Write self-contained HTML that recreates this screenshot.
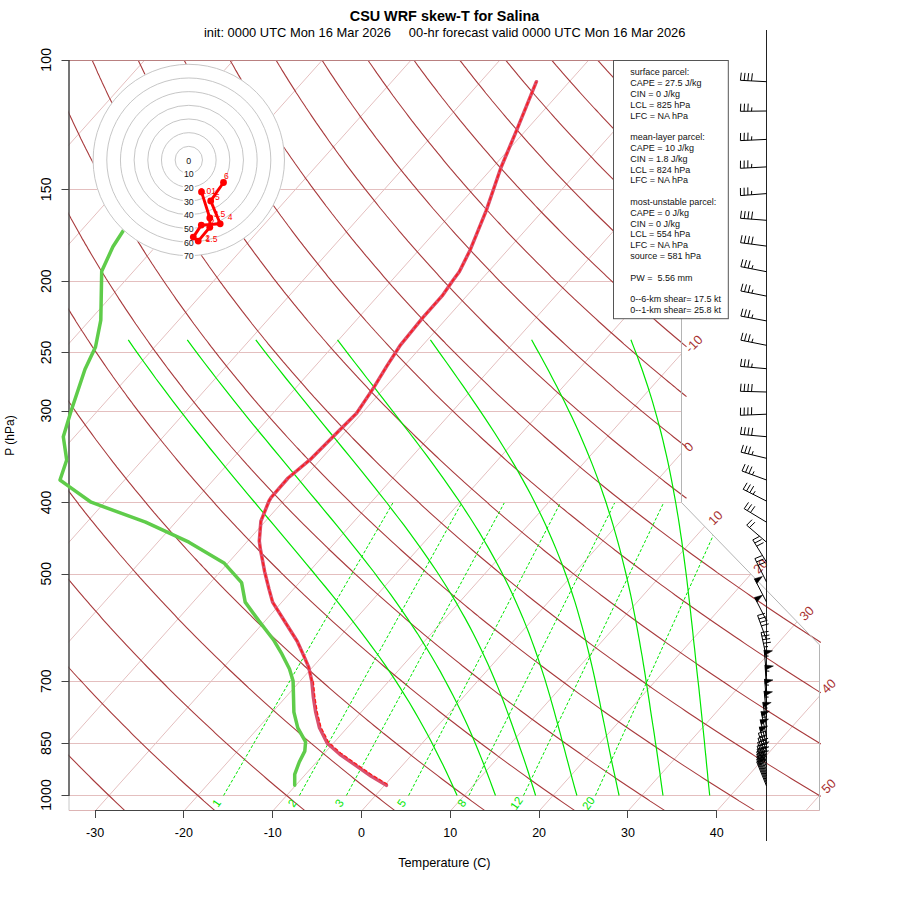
<!DOCTYPE html><html><head><meta charset="utf-8"><style>html,body{margin:0;padding:0;background:#fff;width:900px;height:900px;overflow:hidden;position:relative}</style></head><body>
<svg width="900" height="900" viewBox="0 0 900 900" style="position:absolute;left:0;top:0">
<defs>
<clipPath id="cb"><path d="M68.5 60.5 L681.5 60.5 L681.5 502.5 L819.5 644.9 L819.5 810.5 L68.5 810.5 Z"/></clipPath>
<clipPath id="cd"><path d="M68.4 60.3 L825.3 60.3 L825.3 811.1 L68.4 811.1 Z"/></clipPath>
</defs>
<rect width="900" height="900" fill="#fff"/>
<path d="M68.4 795.5H819.5M68.4 743.5H819.5M68.4 681.5H819.5M68.4 574.5H750.8M68.4 502.5H681.5M68.4 411.5H681.5M68.4 352.5H681.5M68.4 281.5H681.5M68.4 189.5H681.5" stroke="#E4BFBF" stroke-width="1" fill="none"/>
<path d="M-615.3 811.1L55.7 60.3M-526.5 811.1L144.5 60.3M-437.7 811.1L233.3 60.3M-348.9 811.1L322.1 60.3M-260.1 811.1L410.9 60.3M-171.3 811.1L499.7 60.3M-82.5 811.1L588.5 60.3M6.3 811.1L677.3 60.3M95.1 811.1L766.1 60.3M183.9 811.1L854.9 60.3M272.7 811.1L943.7 60.3M361.5 811.1L1032.5 60.3M450.3 811.1L1121.3 60.3M539.1 811.1L1210.1 60.3M627.9 811.1L1298.9 60.3M716.7 811.1L1387.7 60.3M805.4 811.1L1476.5 60.3" stroke="#E4BFBF" stroke-width="1" fill="none" clip-path="url(#cb)"/>
<path d="M-275.5 60.3 L-275.2 62.8 L-274.9 65.3 L-274.6 67.8 L-274.3 70.4 L-274 72.9 L-273.7 75.4 L-273.4 77.9 L-273.1 80.4 L-272.8 82.9 L-272.5 85.4 L-272.1 87.9 L-271.8 90.4 L-271.5 93 L-271.1 95.5 L-270.8 98 L-270.4 100.5 L-270 103 L-269.7 105.5 L-269.3 108 L-268.9 110.5 L-268.5 113 L-268.1 115.6 L-267.7 118.1 L-267.3 120.6 L-266.9 123.1 L-266.5 125.6 L-266.1 128.1 L-265.6 130.6 L-265.2 133.1 L-264.8 135.6 L-264.3 138.2 L-263.9 140.7 L-263.4 143.2 L-262.9 145.7 L-262.5 148.2 L-262 150.7 L-261.5 153.2 L-261 155.7 L-260.5 158.2 L-260 160.8 L-259.5 163.3 L-259 165.8 L-258.5 168.3 L-257.9 170.8 L-257.4 173.3 L-256.9 175.8 L-256.3 178.3 L-255.8 180.8 L-255.2 183.4 L-254.6 185.9 L-254.1 188.4 L-253.5 190.9 L-252.9 193.4 L-252.3 195.9 L-251.7 198.4 L-251.1 200.9 L-250.5 203.4 L-249.9 206 L-249.3 208.5 L-248.6 211 L-248 213.5 L-247.4 216 L-246.7 218.5 L-246.1 221 L-245.4 223.5 L-244.7 226 L-244.1 228.5 L-243.4 231.1 L-242.7 233.6 L-242 236.1 L-241.3 238.6 L-240.6 241.1 L-239.9 243.6 L-239.1 246.1 L-238.4 248.6 L-237.7 251.1 L-236.9 253.7 L-236.2 256.2 L-235.4 258.7 L-234.7 261.2 L-233.9 263.7 L-233.1 266.2 L-232.4 268.7 L-231.6 271.2 L-230.8 273.7 L-230 276.3 L-229.2 278.8 L-228.3 281.3 L-227.5 283.8 L-226.7 286.3 L-225.8 288.8 L-225 291.3 L-224.2 293.8 L-223.3 296.3 L-222.4 298.9 L-221.6 301.4 L-220.7 303.9 L-219.8 306.4 L-218.9 308.9 L-218 311.4 L-217.1 313.9 L-216.2 316.4 L-215.3 318.9 L-214.3 321.5 L-213.4 324 L-212.5 326.5 L-211.5 329 L-210.5 331.5 L-209.6 334 L-208.6 336.5 L-207.6 339 L-206.6 341.5 L-205.7 344.1 L-204.7 346.6 L-203.6 349.1 L-202.6 351.6 L-201.6 354.1 L-200.6 356.6 L-199.5 359.1 L-198.5 361.6 L-197.4 364.1 L-196.4 366.7 L-195.3 369.2 L-194.2 371.7 L-193.2 374.2 L-192.1 376.7 L-191 379.2 L-189.9 381.7 L-188.8 384.2 L-187.6 386.7 L-186.5 389.3 L-185.4 391.8 L-184.2 394.3 L-183.1 396.8 L-181.9 399.3 L-180.8 401.8 L-179.6 404.3 L-178.4 406.8 L-177.2 409.3 L-176 411.9 L-174.8 414.4 L-173.6 416.9 L-172.4 419.4 L-171.2 421.9 L-169.9 424.4 L-168.7 426.9 L-167.4 429.4 L-166.2 431.9 L-164.9 434.4 L-163.6 437 L-162.4 439.5 L-161.1 442 L-159.8 444.5 L-158.5 447 L-157.2 449.5 L-155.8 452 L-154.5 454.5 L-153.2 457 L-151.8 459.6 L-150.5 462.1 L-149.1 464.6 L-147.7 467.1 L-146.4 469.6 L-145 472.1 L-143.6 474.6 L-142.2 477.1 L-140.8 479.6 L-139.3 482.2 L-137.9 484.7 L-136.5 487.2 L-135 489.7 L-133.6 492.2 L-132.1 494.7 L-130.7 497.2 L-129.2 499.7 L-127.7 502.2 L-126.2 504.8 L-124.7 507.3 L-123.2 509.8 L-121.7 512.3 L-120.1 514.8 L-118.6 517.3 L-117.1 519.8 L-115.5 522.3 L-113.9 524.8 L-112.4 527.4 L-110.8 529.9 L-109.2 532.4 L-107.6 534.9 L-106 537.4 L-104.4 539.9 L-102.8 542.4 L-101.1 544.9 L-99.5 547.4 L-97.8 550 L-96.2 552.5 L-94.5 555 L-92.8 557.5 L-91.2 560 L-89.5 562.5 L-87.8 565 L-86.1 567.5 L-84.3 570 L-82.6 572.6 L-80.9 575.1 L-79.1 577.6 L-77.4 580.1 L-75.6 582.6 L-73.8 585.1 L-72 587.6 L-70.3 590.1 L-68.5 592.6 L-66.6 595.2 L-64.8 597.7 L-63 600.2 L-61.2 602.7 L-59.3 605.2 L-57.5 607.7 L-55.6 610.2 L-53.7 612.7 L-51.8 615.2 L-49.9 617.8 L-48 620.3 L-46.1 622.8 L-44.2 625.3 L-42.3 627.8 L-40.3 630.3 L-38.4 632.8 L-36.4 635.3 L-34.5 637.8 L-32.5 640.3 L-30.5 642.9 L-28.5 645.4 L-26.5 647.9 L-24.5 650.4 L-22.5 652.9 L-20.4 655.4 L-18.4 657.9 L-16.3 660.4 L-14.3 662.9 L-12.2 665.5 L-10.1 668 L-8 670.5 L-5.9 673 L-3.8 675.5 L-1.7 678 L0.4 680.5 L2.6 683 L4.7 685.5 L6.9 688.1 L9.1 690.6 L11.3 693.1 L13.4 695.6 L15.6 698.1 L17.9 700.6 L20.1 703.1 L22.3 705.6 L24.6 708.1 L26.8 710.7 L29.1 713.2 L31.3 715.7 L33.6 718.2 L35.9 720.7 L38.2 723.2 L40.5 725.7 L42.8 728.2 L45.2 730.7 L47.5 733.3 L49.9 735.8 L52.2 738.3 L54.6 740.8 L57 743.3 L59.4 745.8 L61.8 748.3 L64.2 750.8 L66.6 753.3 L69.1 755.9 L71.5 758.4 L74 760.9 L76.5 763.4 L78.9 765.9 L81.4 768.4 L83.9 770.9 L86.4 773.4 L89 775.9 L91.5 778.5 L94 781 L96.6 783.5 L99.2 786 L101.7 788.5 L104.3 791 L106.9 793.5 L109.5 796 L112.1 798.5 L114.8 801.1 L117.4 803.6 L120.1 806.1 L122.7 808.6 L125.4 811.1M-229.5 60.3 L-229.1 62.8 L-228.7 65.3 L-228.3 67.8 L-228 70.4 L-227.6 72.9 L-227.1 75.4 L-226.7 77.9 L-226.3 80.4 L-225.9 82.9 L-225.5 85.4 L-225 87.9 L-224.6 90.4 L-224.1 93 L-223.7 95.5 L-223.2 98 L-222.8 100.5 L-222.3 103 L-221.8 105.5 L-221.3 108 L-220.8 110.5 L-220.3 113 L-219.8 115.6 L-219.3 118.1 L-218.8 120.6 L-218.3 123.1 L-217.8 125.6 L-217.2 128.1 L-216.7 130.6 L-216.1 133.1 L-215.6 135.6 L-215 138.2 L-214.5 140.7 L-213.9 143.2 L-213.3 145.7 L-212.7 148.2 L-212.2 150.7 L-211.6 153.2 L-211 155.7 L-210.3 158.2 L-209.7 160.8 L-209.1 163.3 L-208.5 165.8 L-207.8 168.3 L-207.2 170.8 L-206.5 173.3 L-205.9 175.8 L-205.2 178.3 L-204.6 180.8 L-203.9 183.4 L-203.2 185.9 L-202.5 188.4 L-201.8 190.9 L-201.1 193.4 L-200.4 195.9 L-199.7 198.4 L-199 200.9 L-198.3 203.4 L-197.5 206 L-196.8 208.5 L-196 211 L-195.3 213.5 L-194.5 216 L-193.8 218.5 L-193 221 L-192.2 223.5 L-191.4 226 L-190.6 228.5 L-189.8 231.1 L-189 233.6 L-188.2 236.1 L-187.4 238.6 L-186.5 241.1 L-185.7 243.6 L-184.9 246.1 L-184 248.6 L-183.2 251.1 L-182.3 253.7 L-181.4 256.2 L-180.5 258.7 L-179.7 261.2 L-178.8 263.7 L-177.9 266.2 L-177 268.7 L-176 271.2 L-175.1 273.7 L-174.2 276.3 L-173.3 278.8 L-172.3 281.3 L-171.4 283.8 L-170.4 286.3 L-169.4 288.8 L-168.5 291.3 L-167.5 293.8 L-166.5 296.3 L-165.5 298.9 L-164.5 301.4 L-163.5 303.9 L-162.5 306.4 L-161.5 308.9 L-160.4 311.4 L-159.4 313.9 L-158.4 316.4 L-157.3 318.9 L-156.3 321.5 L-155.2 324 L-154.1 326.5 L-153 329 L-151.9 331.5 L-150.9 334 L-149.8 336.5 L-148.6 339 L-147.5 341.5 L-146.4 344.1 L-145.3 346.6 L-144.1 349.1 L-143 351.6 L-141.8 354.1 L-140.6 356.6 L-139.5 359.1 L-138.3 361.6 L-137.1 364.1 L-135.9 366.7 L-134.7 369.2 L-133.5 371.7 L-132.3 374.2 L-131.1 376.7 L-129.8 379.2 L-128.6 381.7 L-127.3 384.2 L-126.1 386.7 L-124.8 389.3 L-123.5 391.8 L-122.3 394.3 L-121 396.8 L-119.7 399.3 L-118.4 401.8 L-117 404.3 L-115.7 406.8 L-114.4 409.3 L-113.1 411.9 L-111.7 414.4 L-110.4 416.9 L-109 419.4 L-107.6 421.9 L-106.3 424.4 L-104.9 426.9 L-103.5 429.4 L-102.1 431.9 L-100.7 434.4 L-99.2 437 L-97.8 439.5 L-96.4 442 L-94.9 444.5 L-93.5 447 L-92 449.5 L-90.6 452 L-89.1 454.5 L-87.6 457 L-86.1 459.6 L-84.6 462.1 L-83.1 464.6 L-81.6 467.1 L-80 469.6 L-78.5 472.1 L-77 474.6 L-75.4 477.1 L-73.8 479.6 L-72.3 482.2 L-70.7 484.7 L-69.1 487.2 L-67.5 489.7 L-65.9 492.2 L-64.3 494.7 L-62.7 497.2 L-61 499.7 L-59.4 502.2 L-57.8 504.8 L-56.1 507.3 L-54.4 509.8 L-52.8 512.3 L-51.1 514.8 L-49.4 517.3 L-47.7 519.8 L-46 522.3 L-44.3 524.8 L-42.5 527.4 L-40.8 529.9 L-39 532.4 L-37.3 534.9 L-35.5 537.4 L-33.8 539.9 L-32 542.4 L-30.2 544.9 L-28.4 547.4 L-26.6 550 L-24.8 552.5 L-22.9 555 L-21.1 557.5 L-19.2 560 L-17.4 562.5 L-15.5 565 L-13.7 567.5 L-11.8 570 L-9.9 572.6 L-8 575.1 L-6.1 577.6 L-4.2 580.1 L-2.2 582.6 L-0.3 585.1 L1.7 587.6 L3.6 590.1 L5.6 592.6 L7.6 595.2 L9.5 597.7 L11.5 600.2 L13.5 602.7 L15.6 605.2 L17.6 607.7 L19.6 610.2 L21.7 612.7 L23.7 615.2 L25.8 617.8 L27.9 620.3 L29.9 622.8 L32 625.3 L34.1 627.8 L36.2 630.3 L38.4 632.8 L40.5 635.3 L42.6 637.8 L44.8 640.3 L46.9 642.9 L49.1 645.4 L51.3 647.9 L53.5 650.4 L55.7 652.9 L57.9 655.4 L60.1 657.9 L62.3 660.4 L64.6 662.9 L66.8 665.5 L69.1 668 L71.4 670.5 L73.6 673 L75.9 675.5 L78.2 678 L80.6 680.5 L82.9 683 L85.2 685.5 L87.6 688.1 L89.9 690.6 L92.3 693.1 L94.6 695.6 L97 698.1 L99.4 700.6 L101.8 703.1 L104.2 705.6 L106.7 708.1 L109.1 710.7 L111.5 713.2 L114 715.7 L116.5 718.2 L119 720.7 L121.4 723.2 L123.9 725.7 L126.5 728.2 L129 730.7 L131.5 733.3 L134 735.8 L136.6 738.3 L139.2 740.8 L141.7 743.3 L144.3 745.8 L146.9 748.3 L149.5 750.8 L152.1 753.3 L154.8 755.9 L157.4 758.4 L160.1 760.9 L162.7 763.4 L165.4 765.9 L168.1 768.4 L170.8 770.9 L173.5 773.4 L176.2 775.9 L178.9 778.5 L181.7 781 L184.4 783.5 L187.2 786 L190 788.5 L192.8 791 L195.6 793.5 L198.4 796 L201.2 798.5 L204 801.1 L206.9 803.6 L209.7 806.1 L212.6 808.6 L215.5 811.1M-183.5 60.3 L-183 62.8 L-182.6 65.3 L-182.1 67.8 L-181.6 70.4 L-181.1 72.9 L-180.6 75.4 L-180 77.9 L-179.5 80.4 L-179 82.9 L-178.5 85.4 L-177.9 87.9 L-177.4 90.4 L-176.8 93 L-176.3 95.5 L-175.7 98 L-175.1 100.5 L-174.5 103 L-174 105.5 L-173.4 108 L-172.8 110.5 L-172.2 113 L-171.5 115.6 L-170.9 118.1 L-170.3 120.6 L-169.7 123.1 L-169 125.6 L-168.4 128.1 L-167.7 130.6 L-167.1 133.1 L-166.4 135.6 L-165.8 138.2 L-165.1 140.7 L-164.4 143.2 L-163.7 145.7 L-163 148.2 L-162.3 150.7 L-161.6 153.2 L-160.9 155.7 L-160.2 158.2 L-159.4 160.8 L-158.7 163.3 L-158 165.8 L-157.2 168.3 L-156.5 170.8 L-155.7 173.3 L-154.9 175.8 L-154.1 178.3 L-153.4 180.8 L-152.6 183.4 L-151.8 185.9 L-151 188.4 L-150.2 190.9 L-149.3 193.4 L-148.5 195.9 L-147.7 198.4 L-146.9 200.9 L-146 203.4 L-145.2 206 L-144.3 208.5 L-143.4 211 L-142.6 213.5 L-141.7 216 L-140.8 218.5 L-139.9 221 L-139 223.5 L-138.1 226 L-137.2 228.5 L-136.3 231.1 L-135.3 233.6 L-134.4 236.1 L-133.4 238.6 L-132.5 241.1 L-131.5 243.6 L-130.6 246.1 L-129.6 248.6 L-128.6 251.1 L-127.6 253.7 L-126.6 256.2 L-125.6 258.7 L-124.6 261.2 L-123.6 263.7 L-122.6 266.2 L-121.6 268.7 L-120.5 271.2 L-119.5 273.7 L-118.4 276.3 L-117.4 278.8 L-116.3 281.3 L-115.2 283.8 L-114.1 286.3 L-113 288.8 L-111.9 291.3 L-110.8 293.8 L-109.7 296.3 L-108.6 298.9 L-107.5 301.4 L-106.3 303.9 L-105.2 306.4 L-104.1 308.9 L-102.9 311.4 L-101.7 313.9 L-100.6 316.4 L-99.4 318.9 L-98.2 321.5 L-97 324 L-95.8 326.5 L-94.6 329 L-93.4 331.5 L-92.1 334 L-90.9 336.5 L-89.6 339 L-88.4 341.5 L-87.1 344.1 L-85.9 346.6 L-84.6 349.1 L-83.3 351.6 L-82 354.1 L-80.7 356.6 L-79.4 359.1 L-78.1 361.6 L-76.8 364.1 L-75.4 366.7 L-74.1 369.2 L-72.8 371.7 L-71.4 374.2 L-70 376.7 L-68.7 379.2 L-67.3 381.7 L-65.9 384.2 L-64.5 386.7 L-63.1 389.3 L-61.7 391.8 L-60.3 394.3 L-58.8 396.8 L-57.4 399.3 L-56 401.8 L-54.5 404.3 L-53 406.8 L-51.6 409.3 L-50.1 411.9 L-48.6 414.4 L-47.1 416.9 L-45.6 419.4 L-44.1 421.9 L-42.6 424.4 L-41 426.9 L-39.5 429.4 L-38 431.9 L-36.4 434.4 L-34.8 437 L-33.3 439.5 L-31.7 442 L-30.1 444.5 L-28.5 447 L-26.9 449.5 L-25.3 452 L-23.7 454.5 L-22 457 L-20.4 459.6 L-18.7 462.1 L-17.1 464.6 L-15.4 467.1 L-13.7 469.6 L-12 472.1 L-10.3 474.6 L-8.6 477.1 L-6.9 479.6 L-5.2 482.2 L-3.5 484.7 L-1.7 487.2 L0 489.7 L1.8 492.2 L3.5 494.7 L5.3 497.2 L7.1 499.7 L8.9 502.2 L10.7 504.8 L12.5 507.3 L14.3 509.8 L16.1 512.3 L18 514.8 L19.8 517.3 L21.7 519.8 L23.5 522.3 L25.4 524.8 L27.3 527.4 L29.2 529.9 L31.1 532.4 L33 534.9 L34.9 537.4 L36.9 539.9 L38.8 542.4 L40.8 544.9 L42.7 547.4 L44.7 550 L46.7 552.5 L48.7 555 L50.7 557.5 L52.7 560 L54.7 562.5 L56.7 565 L58.7 567.5 L60.8 570 L62.8 572.6 L64.9 575.1 L67 577.6 L69.1 580.1 L71.2 582.6 L73.3 585.1 L75.4 587.6 L77.5 590.1 L79.6 592.6 L81.8 595.2 L83.9 597.7 L86.1 600.2 L88.3 602.7 L90.4 605.2 L92.6 607.7 L94.8 610.2 L97.1 612.7 L99.3 615.2 L101.5 617.8 L103.7 620.3 L106 622.8 L108.3 625.3 L110.5 627.8 L112.8 630.3 L115.1 632.8 L117.4 635.3 L119.7 637.8 L122.1 640.3 L124.4 642.9 L126.7 645.4 L129.1 647.9 L131.5 650.4 L133.8 652.9 L136.2 655.4 L138.6 657.9 L141 660.4 L143.4 662.9 L145.9 665.5 L148.3 668 L150.8 670.5 L153.2 673 L155.7 675.5 L158.2 678 L160.7 680.5 L163.2 683 L165.7 685.5 L168.2 688.1 L170.7 690.6 L173.3 693.1 L175.8 695.6 L178.4 698.1 L181 700.6 L183.6 703.1 L186.2 705.6 L188.8 708.1 L191.4 710.7 L194 713.2 L196.7 715.7 L199.3 718.2 L202 720.7 L204.7 723.2 L207.4 725.7 L210.1 728.2 L212.8 730.7 L215.5 733.3 L218.2 735.8 L221 738.3 L223.7 740.8 L226.5 743.3 L229.3 745.8 L232 748.3 L234.8 750.8 L237.7 753.3 L240.5 755.9 L243.3 758.4 L246.2 760.9 L249 763.4 L251.9 765.9 L254.8 768.4 L257.7 770.9 L260.6 773.4 L263.5 775.9 L266.4 778.5 L269.3 781 L272.3 783.5 L275.2 786 L278.2 788.5 L281.2 791 L284.2 793.5 L287.2 796 L290.2 798.5 L293.3 801.1 L296.3 803.6 L299.4 806.1 L302.4 808.6 L305.5 811.1M-137.6 60.3 L-137 62.8 L-136.4 65.3 L-135.8 67.8 L-135.2 70.4 L-134.6 72.9 L-134 75.4 L-133.4 77.9 L-132.7 80.4 L-132.1 82.9 L-131.4 85.4 L-130.8 87.9 L-130.1 90.4 L-129.5 93 L-128.8 95.5 L-128.1 98 L-127.5 100.5 L-126.8 103 L-126.1 105.5 L-125.4 108 L-124.7 110.5 L-124 113 L-123.3 115.6 L-122.5 118.1 L-121.8 120.6 L-121.1 123.1 L-120.3 125.6 L-119.6 128.1 L-118.8 130.6 L-118 133.1 L-117.3 135.6 L-116.5 138.2 L-115.7 140.7 L-114.9 143.2 L-114.1 145.7 L-113.3 148.2 L-112.5 150.7 L-111.7 153.2 L-110.8 155.7 L-110 158.2 L-109.1 160.8 L-108.3 163.3 L-107.4 165.8 L-106.6 168.3 L-105.7 170.8 L-104.8 173.3 L-104 175.8 L-103.1 178.3 L-102.2 180.8 L-101.3 183.4 L-100.3 185.9 L-99.4 188.4 L-98.5 190.9 L-97.6 193.4 L-96.6 195.9 L-95.7 198.4 L-94.7 200.9 L-93.8 203.4 L-92.8 206 L-91.8 208.5 L-90.8 211 L-89.8 213.5 L-88.8 216 L-87.8 218.5 L-86.8 221 L-85.8 223.5 L-84.8 226 L-83.7 228.5 L-82.7 231.1 L-81.6 233.6 L-80.6 236.1 L-79.5 238.6 L-78.5 241.1 L-77.4 243.6 L-76.3 246.1 L-75.2 248.6 L-74.1 251.1 L-73 253.7 L-71.9 256.2 L-70.7 258.7 L-69.6 261.2 L-68.5 263.7 L-67.3 266.2 L-66.2 268.7 L-65 271.2 L-63.8 273.7 L-62.7 276.3 L-61.5 278.8 L-60.3 281.3 L-59.1 283.8 L-57.9 286.3 L-56.6 288.8 L-55.4 291.3 L-54.2 293.8 L-52.9 296.3 L-51.7 298.9 L-50.4 301.4 L-49.2 303.9 L-47.9 306.4 L-46.6 308.9 L-45.3 311.4 L-44 313.9 L-42.7 316.4 L-41.4 318.9 L-40.1 321.5 L-38.8 324 L-37.4 326.5 L-36.1 329 L-34.8 331.5 L-33.4 334 L-32 336.5 L-30.6 339 L-29.3 341.5 L-27.9 344.1 L-26.5 346.6 L-25.1 349.1 L-23.6 351.6 L-22.2 354.1 L-20.8 356.6 L-19.3 359.1 L-17.9 361.6 L-16.4 364.1 L-15 366.7 L-13.5 369.2 L-12 371.7 L-10.5 374.2 L-9 376.7 L-7.5 379.2 L-6 381.7 L-4.5 384.2 L-2.9 386.7 L-1.4 389.3 L0.2 391.8 L1.7 394.3 L3.3 396.8 L4.9 399.3 L6.5 401.8 L8 404.3 L9.7 406.8 L11.3 409.3 L12.9 411.9 L14.5 414.4 L16.2 416.9 L17.8 419.4 L19.5 421.9 L21.1 424.4 L22.8 426.9 L24.5 429.4 L26.2 431.9 L27.9 434.4 L29.6 437 L31.3 439.5 L33 442 L34.7 444.5 L36.5 447 L38.2 449.5 L40 452 L41.8 454.5 L43.6 457 L45.3 459.6 L47.1 462.1 L48.9 464.6 L50.8 467.1 L52.6 469.6 L54.4 472.1 L56.3 474.6 L58.1 477.1 L60 479.6 L61.9 482.2 L63.7 484.7 L65.6 487.2 L67.5 489.7 L69.4 492.2 L71.4 494.7 L73.3 497.2 L75.2 499.7 L77.2 502.2 L79.1 504.8 L81.1 507.3 L83.1 509.8 L85 512.3 L87 514.8 L89 517.3 L91 519.8 L93.1 522.3 L95.1 524.8 L97.1 527.4 L99.2 529.9 L101.3 532.4 L103.3 534.9 L105.4 537.4 L107.5 539.9 L109.6 542.4 L111.7 544.9 L113.8 547.4 L116 550 L118.1 552.5 L120.2 555 L122.4 557.5 L124.6 560 L126.7 562.5 L128.9 565 L131.1 567.5 L133.3 570 L135.6 572.6 L137.8 575.1 L140 577.6 L142.3 580.1 L144.5 582.6 L146.8 585.1 L149.1 587.6 L151.4 590.1 L153.7 592.6 L156 595.2 L158.3 597.7 L160.6 600.2 L163 602.7 L165.3 605.2 L167.7 607.7 L170.1 610.2 L172.4 612.7 L174.8 615.2 L177.2 617.8 L179.6 620.3 L182.1 622.8 L184.5 625.3 L186.9 627.8 L189.4 630.3 L191.9 632.8 L194.3 635.3 L196.8 637.8 L199.3 640.3 L201.8 642.9 L204.4 645.4 L206.9 647.9 L209.4 650.4 L212 652.9 L214.5 655.4 L217.1 657.9 L219.7 660.4 L222.3 662.9 L224.9 665.5 L227.5 668 L230.1 670.5 L232.8 673 L235.4 675.5 L238.1 678 L240.8 680.5 L243.4 683 L246.1 685.5 L248.8 688.1 L251.6 690.6 L254.3 693.1 L257 695.6 L259.8 698.1 L262.5 700.6 L265.3 703.1 L268.1 705.6 L270.9 708.1 L273.7 710.7 L276.5 713.2 L279.3 715.7 L282.2 718.2 L285 720.7 L287.9 723.2 L290.8 725.7 L293.7 728.2 L296.6 730.7 L299.5 733.3 L302.4 735.8 L305.3 738.3 L308.3 740.8 L311.2 743.3 L314.2 745.8 L317.2 748.3 L320.2 750.8 L323.2 753.3 L326.2 755.9 L329.2 758.4 L332.2 760.9 L335.3 763.4 L338.4 765.9 L341.4 768.4 L344.5 770.9 L347.6 773.4 L350.7 775.9 L353.8 778.5 L357 781 L360.1 783.5 L363.3 786 L366.5 788.5 L369.6 791 L372.8 793.5 L376 796 L379.3 798.5 L382.5 801.1 L385.7 803.6 L389 806.1 L392.3 808.6 L395.5 811.1M-91.6 60.3 L-90.9 62.8 L-90.2 65.3 L-89.5 67.8 L-88.8 70.4 L-88.1 72.9 L-87.4 75.4 L-86.7 77.9 L-85.9 80.4 L-85.2 82.9 L-84.4 85.4 L-83.7 87.9 L-82.9 90.4 L-82.2 93 L-81.4 95.5 L-80.6 98 L-79.8 100.5 L-79 103 L-78.2 105.5 L-77.4 108 L-76.6 110.5 L-75.8 113 L-75 115.6 L-74.1 118.1 L-73.3 120.6 L-72.4 123.1 L-71.6 125.6 L-70.7 128.1 L-69.8 130.6 L-69 133.1 L-68.1 135.6 L-67.2 138.2 L-66.3 140.7 L-65.4 143.2 L-64.5 145.7 L-63.6 148.2 L-62.6 150.7 L-61.7 153.2 L-60.8 155.7 L-59.8 158.2 L-58.9 160.8 L-57.9 163.3 L-56.9 165.8 L-56 168.3 L-55 170.8 L-54 173.3 L-53 175.8 L-52 178.3 L-51 180.8 L-49.9 183.4 L-48.9 185.9 L-47.9 188.4 L-46.8 190.9 L-45.8 193.4 L-44.7 195.9 L-43.7 198.4 L-42.6 200.9 L-41.5 203.4 L-40.4 206 L-39.3 208.5 L-38.2 211 L-37.1 213.5 L-36 216 L-34.9 218.5 L-33.7 221 L-32.6 223.5 L-31.5 226 L-30.3 228.5 L-29.1 231.1 L-28 233.6 L-26.8 236.1 L-25.6 238.6 L-24.4 241.1 L-23.2 243.6 L-22 246.1 L-20.8 248.6 L-19.6 251.1 L-18.3 253.7 L-17.1 256.2 L-15.8 258.7 L-14.6 261.2 L-13.3 263.7 L-12 266.2 L-10.8 268.7 L-9.5 271.2 L-8.2 273.7 L-6.9 276.3 L-5.6 278.8 L-4.3 281.3 L-2.9 283.8 L-1.6 286.3 L-0.2 288.8 L1.1 291.3 L2.5 293.8 L3.8 296.3 L5.2 298.9 L6.6 301.4 L8 303.9 L9.4 306.4 L10.8 308.9 L12.2 311.4 L13.6 313.9 L15.1 316.4 L16.5 318.9 L18 321.5 L19.4 324 L20.9 326.5 L22.4 329 L23.8 331.5 L25.3 334 L26.8 336.5 L28.3 339 L29.9 341.5 L31.4 344.1 L32.9 346.6 L34.5 349.1 L36 351.6 L37.6 354.1 L39.1 356.6 L40.7 359.1 L42.3 361.6 L43.9 364.1 L45.5 366.7 L47.1 369.2 L48.7 371.7 L50.4 374.2 L52 376.7 L53.7 379.2 L55.3 381.7 L57 384.2 L58.6 386.7 L60.3 389.3 L62 391.8 L63.7 394.3 L65.4 396.8 L67.1 399.3 L68.9 401.8 L70.6 404.3 L72.3 406.8 L74.1 409.3 L75.9 411.9 L77.6 414.4 L79.4 416.9 L81.2 419.4 L83 421.9 L84.8 424.4 L86.6 426.9 L88.4 429.4 L90.3 431.9 L92.1 434.4 L94 437 L95.8 439.5 L97.7 442 L99.6 444.5 L101.5 447 L103.4 449.5 L105.3 452 L107.2 454.5 L109.1 457 L111.1 459.6 L113 462.1 L115 464.6 L116.9 467.1 L118.9 469.6 L120.9 472.1 L122.9 474.6 L124.9 477.1 L126.9 479.6 L128.9 482.2 L131 484.7 L133 487.2 L135 489.7 L137.1 492.2 L139.2 494.7 L141.3 497.2 L143.3 499.7 L145.4 502.2 L147.6 504.8 L149.7 507.3 L151.8 509.8 L153.9 512.3 L156.1 514.8 L158.2 517.3 L160.4 519.8 L162.6 522.3 L164.8 524.8 L167 527.4 L169.2 529.9 L171.4 532.4 L173.6 534.9 L175.9 537.4 L178.1 539.9 L180.4 542.4 L182.6 544.9 L184.9 547.4 L187.2 550 L189.5 552.5 L191.8 555 L194.1 557.5 L196.5 560 L198.8 562.5 L201.2 565 L203.5 567.5 L205.9 570 L208.3 572.6 L210.7 575.1 L213.1 577.6 L215.5 580.1 L217.9 582.6 L220.3 585.1 L222.8 587.6 L225.2 590.1 L227.7 592.6 L230.2 595.2 L232.7 597.7 L235.2 600.2 L237.7 602.7 L240.2 605.2 L242.7 607.7 L245.3 610.2 L247.8 612.7 L250.4 615.2 L253 617.8 L255.5 620.3 L258.1 622.8 L260.7 625.3 L263.4 627.8 L266 630.3 L268.6 632.8 L271.3 635.3 L273.9 637.8 L276.6 640.3 L279.3 642.9 L282 645.4 L284.7 647.9 L287.4 650.4 L290.1 652.9 L292.9 655.4 L295.6 657.9 L298.4 660.4 L301.2 662.9 L303.9 665.5 L306.7 668 L309.5 670.5 L312.4 673 L315.2 675.5 L318 678 L320.9 680.5 L323.7 683 L326.6 685.5 L329.5 688.1 L332.4 690.6 L335.3 693.1 L338.2 695.6 L341.2 698.1 L344.1 700.6 L347.1 703.1 L350 705.6 L353 708.1 L356 710.7 L359 713.2 L362 715.7 L365 718.2 L368.1 720.7 L371.1 723.2 L374.2 725.7 L377.3 728.2 L380.3 730.7 L383.4 733.3 L386.6 735.8 L389.7 738.3 L392.8 740.8 L396 743.3 L399.1 745.8 L402.3 748.3 L405.5 750.8 L408.7 753.3 L411.9 755.9 L415.1 758.4 L418.3 760.9 L421.6 763.4 L424.8 765.9 L428.1 768.4 L431.4 770.9 L434.7 773.4 L438 775.9 L441.3 778.5 L444.6 781 L448 783.5 L451.3 786 L454.7 788.5 L458.1 791 L461.5 793.5 L464.9 796 L468.3 798.5 L471.7 801.1 L475.2 803.6 L478.6 806.1 L482.1 808.6 L485.6 811.1M-45.6 60.3 L-44.8 62.8 L-44.1 65.3 L-43.2 67.8 L-42.4 70.4 L-41.6 72.9 L-40.8 75.4 L-40 77.9 L-39.1 80.4 L-38.3 82.9 L-37.4 85.4 L-36.6 87.9 L-35.7 90.4 L-34.8 93 L-34 95.5 L-33.1 98 L-32.2 100.5 L-31.3 103 L-30.4 105.5 L-29.5 108 L-28.5 110.5 L-27.6 113 L-26.7 115.6 L-25.7 118.1 L-24.8 120.6 L-23.8 123.1 L-22.8 125.6 L-21.9 128.1 L-20.9 130.6 L-19.9 133.1 L-18.9 135.6 L-17.9 138.2 L-16.9 140.7 L-15.9 143.2 L-14.9 145.7 L-13.8 148.2 L-12.8 150.7 L-11.8 153.2 L-10.7 155.7 L-9.6 158.2 L-8.6 160.8 L-7.5 163.3 L-6.4 165.8 L-5.3 168.3 L-4.2 170.8 L-3.1 173.3 L-2 175.8 L-0.9 178.3 L0.2 180.8 L1.4 183.4 L2.5 185.9 L3.7 188.4 L4.8 190.9 L6 193.4 L7.2 195.9 L8.4 198.4 L9.5 200.9 L10.7 203.4 L11.9 206 L13.2 208.5 L14.4 211 L15.6 213.5 L16.8 216 L18.1 218.5 L19.3 221 L20.6 223.5 L21.9 226 L23.1 228.5 L24.4 231.1 L25.7 233.6 L27 236.1 L28.3 238.6 L29.6 241.1 L31 243.6 L32.3 246.1 L33.6 248.6 L35 251.1 L36.3 253.7 L37.7 256.2 L39.1 258.7 L40.4 261.2 L41.8 263.7 L43.2 266.2 L44.6 268.7 L46 271.2 L47.5 273.7 L48.9 276.3 L50.3 278.8 L51.8 281.3 L53.2 283.8 L54.7 286.3 L56.2 288.8 L57.6 291.3 L59.1 293.8 L60.6 296.3 L62.1 298.9 L63.6 301.4 L65.2 303.9 L66.7 306.4 L68.2 308.9 L69.8 311.4 L71.3 313.9 L72.9 316.4 L74.5 318.9 L76 321.5 L77.6 324 L79.2 326.5 L80.8 329 L82.4 331.5 L84.1 334 L85.7 336.5 L87.3 339 L89 341.5 L90.7 344.1 L92.3 346.6 L94 349.1 L95.7 351.6 L97.4 354.1 L99.1 356.6 L100.8 359.1 L102.5 361.6 L104.2 364.1 L106 366.7 L107.7 369.2 L109.5 371.7 L111.3 374.2 L113 376.7 L114.8 379.2 L116.6 381.7 L118.4 384.2 L120.2 386.7 L122 389.3 L123.9 391.8 L125.7 394.3 L127.5 396.8 L129.4 399.3 L131.3 401.8 L133.1 404.3 L135 406.8 L136.9 409.3 L138.8 411.9 L140.7 414.4 L142.7 416.9 L144.6 419.4 L146.5 421.9 L148.5 424.4 L150.4 426.9 L152.4 429.4 L154.4 431.9 L156.4 434.4 L158.4 437 L160.4 439.5 L162.4 442 L164.4 444.5 L166.5 447 L168.5 449.5 L170.6 452 L172.6 454.5 L174.7 457 L176.8 459.6 L178.9 462.1 L181 464.6 L183.1 467.1 L185.2 469.6 L187.4 472.1 L189.5 474.6 L191.7 477.1 L193.8 479.6 L196 482.2 L198.2 484.7 L200.4 487.2 L202.6 489.7 L204.8 492.2 L207 494.7 L209.2 497.2 L211.5 499.7 L213.7 502.2 L216 504.8 L218.3 507.3 L220.5 509.8 L222.8 512.3 L225.1 514.8 L227.5 517.3 L229.8 519.8 L232.1 522.3 L234.5 524.8 L236.8 527.4 L239.2 529.9 L241.6 532.4 L243.9 534.9 L246.3 537.4 L248.7 539.9 L251.2 542.4 L253.6 544.9 L256 547.4 L258.5 550 L260.9 552.5 L263.4 555 L265.9 557.5 L268.4 560 L270.9 562.5 L273.4 565 L275.9 567.5 L278.5 570 L281 572.6 L283.6 575.1 L286.1 577.6 L288.7 580.1 L291.3 582.6 L293.9 585.1 L296.5 587.6 L299.1 590.1 L301.8 592.6 L304.4 595.2 L307.1 597.7 L309.7 600.2 L312.4 602.7 L315.1 605.2 L317.8 607.7 L320.5 610.2 L323.2 612.7 L325.9 615.2 L328.7 617.8 L331.4 620.3 L334.2 622.8 L337 625.3 L339.8 627.8 L342.6 630.3 L345.4 632.8 L348.2 635.3 L351 637.8 L353.9 640.3 L356.7 642.9 L359.6 645.4 L362.5 647.9 L365.4 650.4 L368.3 652.9 L371.2 655.4 L374.1 657.9 L377.1 660.4 L380 662.9 L383 665.5 L385.9 668 L388.9 670.5 L391.9 673 L394.9 675.5 L397.9 678 L401 680.5 L404 683 L407.1 685.5 L410.1 688.1 L413.2 690.6 L416.3 693.1 L419.4 695.6 L422.5 698.1 L425.7 700.6 L428.8 703.1 L432 705.6 L435.1 708.1 L438.3 710.7 L441.5 713.2 L444.7 715.7 L447.9 718.2 L451.1 720.7 L454.4 723.2 L457.6 725.7 L460.9 728.2 L464.1 730.7 L467.4 733.3 L470.7 735.8 L474 738.3 L477.4 740.8 L480.7 743.3 L484 745.8 L487.4 748.3 L490.8 750.8 L494.2 753.3 L497.6 755.9 L501 758.4 L504.4 760.9 L507.8 763.4 L511.3 765.9 L514.8 768.4 L518.2 770.9 L521.7 773.4 L525.2 775.9 L528.7 778.5 L532.3 781 L535.8 783.5 L539.4 786 L542.9 788.5 L546.5 791 L550.1 793.5 L553.7 796 L557.3 798.5 L561 801.1 L564.6 803.6 L568.3 806.1 L571.9 808.6 L575.6 811.1M0.3 60.3 L1.2 62.8 L2.1 65.3 L3 67.8 L3.9 70.4 L4.9 72.9 L5.8 75.4 L6.7 77.9 L7.7 80.4 L8.6 82.9 L9.6 85.4 L10.5 87.9 L11.5 90.4 L12.5 93 L13.5 95.5 L14.5 98 L15.5 100.5 L16.5 103 L17.5 105.5 L18.5 108 L19.5 110.5 L20.6 113 L21.6 115.6 L22.7 118.1 L23.7 120.6 L24.8 123.1 L25.9 125.6 L27 128.1 L28.1 130.6 L29.2 133.1 L30.3 135.6 L31.4 138.2 L32.5 140.7 L33.6 143.2 L34.7 145.7 L35.9 148.2 L37 150.7 L38.2 153.2 L39.4 155.7 L40.5 158.2 L41.7 160.8 L42.9 163.3 L44.1 165.8 L45.3 168.3 L46.5 170.8 L47.7 173.3 L49 175.8 L50.2 178.3 L51.4 180.8 L52.7 183.4 L54 185.9 L55.2 188.4 L56.5 190.9 L57.8 193.4 L59.1 195.9 L60.4 198.4 L61.7 200.9 L63 203.4 L64.3 206 L65.6 208.5 L67 211 L68.3 213.5 L69.7 216 L71 218.5 L72.4 221 L73.8 223.5 L75.2 226 L76.6 228.5 L78 231.1 L79.4 233.6 L80.8 236.1 L82.2 238.6 L83.7 241.1 L85.1 243.6 L86.6 246.1 L88 248.6 L89.5 251.1 L91 253.7 L92.5 256.2 L94 258.7 L95.5 261.2 L97 263.7 L98.5 266.2 L100 268.7 L101.6 271.2 L103.1 273.7 L104.7 276.3 L106.2 278.8 L107.8 281.3 L109.4 283.8 L111 286.3 L112.6 288.8 L114.2 291.3 L115.8 293.8 L117.4 296.3 L119 298.9 L120.7 301.4 L122.3 303.9 L124 306.4 L125.6 308.9 L127.3 311.4 L129 313.9 L130.7 316.4 L132.4 318.9 L134.1 321.5 L135.8 324 L137.6 326.5 L139.3 329 L141 331.5 L142.8 334 L144.6 336.5 L146.3 339 L148.1 341.5 L149.9 344.1 L151.7 346.6 L153.5 349.1 L155.3 351.6 L157.2 354.1 L159 356.6 L160.9 359.1 L162.7 361.6 L164.6 364.1 L166.5 366.7 L168.3 369.2 L170.2 371.7 L172.1 374.2 L174 376.7 L176 379.2 L177.9 381.7 L179.8 384.2 L181.8 386.7 L183.7 389.3 L185.7 391.8 L187.7 394.3 L189.7 396.8 L191.7 399.3 L193.7 401.8 L195.7 404.3 L197.7 406.8 L199.8 409.3 L201.8 411.9 L203.9 414.4 L205.9 416.9 L208 419.4 L210.1 421.9 L212.2 424.4 L214.3 426.9 L216.4 429.4 L218.5 431.9 L220.6 434.4 L222.8 437 L224.9 439.5 L227.1 442 L229.3 444.5 L231.4 447 L233.6 449.5 L235.8 452 L238.1 454.5 L240.3 457 L242.5 459.6 L244.8 462.1 L247 464.6 L249.3 467.1 L251.5 469.6 L253.8 472.1 L256.1 474.6 L258.4 477.1 L260.7 479.6 L263.1 482.2 L265.4 484.7 L267.7 487.2 L270.1 489.7 L272.4 492.2 L274.8 494.7 L277.2 497.2 L279.6 499.7 L282 502.2 L284.4 504.8 L286.9 507.3 L289.3 509.8 L291.7 512.3 L294.2 514.8 L296.7 517.3 L299.1 519.8 L301.6 522.3 L304.1 524.8 L306.7 527.4 L309.2 529.9 L311.7 532.4 L314.3 534.9 L316.8 537.4 L319.4 539.9 L322 542.4 L324.5 544.9 L327.1 547.4 L329.7 550 L332.4 552.5 L335 555 L337.6 557.5 L340.3 560 L343 562.5 L345.6 565 L348.3 567.5 L351 570 L353.7 572.6 L356.4 575.1 L359.2 577.6 L361.9 580.1 L364.7 582.6 L367.4 585.1 L370.2 587.6 L373 590.1 L375.8 592.6 L378.6 595.2 L381.4 597.7 L384.3 600.2 L387.1 602.7 L390 605.2 L392.8 607.7 L395.7 610.2 L398.6 612.7 L401.5 615.2 L404.4 617.8 L407.3 620.3 L410.3 622.8 L413.2 625.3 L416.2 627.8 L419.2 630.3 L422.1 632.8 L425.1 635.3 L428.1 637.8 L431.2 640.3 L434.2 642.9 L437.2 645.4 L440.3 647.9 L443.4 650.4 L446.4 652.9 L449.5 655.4 L452.6 657.9 L455.7 660.4 L458.9 662.9 L462 665.5 L465.2 668 L468.3 670.5 L471.5 673 L474.7 675.5 L477.9 678 L481.1 680.5 L484.3 683 L487.5 685.5 L490.8 688.1 L494.1 690.6 L497.3 693.1 L500.6 695.6 L503.9 698.1 L507.2 700.6 L510.5 703.1 L513.9 705.6 L517.2 708.1 L520.6 710.7 L524 713.2 L527.4 715.7 L530.7 718.2 L534.2 720.7 L537.6 723.2 L541 725.7 L544.5 728.2 L547.9 730.7 L551.4 733.3 L554.9 735.8 L558.4 738.3 L561.9 740.8 L565.4 743.3 L569 745.8 L572.5 748.3 L576.1 750.8 L579.7 753.3 L583.3 755.9 L586.9 758.4 L590.5 760.9 L594.1 763.4 L597.8 765.9 L601.4 768.4 L605.1 770.9 L608.8 773.4 L612.5 775.9 L616.2 778.5 L619.9 781 L623.7 783.5 L627.4 786 L631.2 788.5 L635 791 L638.7 793.5 L642.6 796 L646.4 798.5 L650.2 801.1 L654.1 803.6 L657.9 806.1 L661.8 808.6 L665.7 811.1M46.3 60.3 L47.3 62.8 L48.3 65.3 L49.3 67.8 L50.3 70.4 L51.3 72.9 L52.4 75.4 L53.4 77.9 L54.5 80.4 L55.5 82.9 L56.6 85.4 L57.7 87.9 L58.7 90.4 L59.8 93 L60.9 95.5 L62 98 L63.1 100.5 L64.2 103 L65.4 105.5 L66.5 108 L67.6 110.5 L68.8 113 L69.9 115.6 L71.1 118.1 L72.3 120.6 L73.4 123.1 L74.6 125.6 L75.8 128.1 L77 130.6 L78.2 133.1 L79.4 135.6 L80.6 138.2 L81.9 140.7 L83.1 143.2 L84.4 145.7 L85.6 148.2 L86.9 150.7 L88.2 153.2 L89.4 155.7 L90.7 158.2 L92 160.8 L93.3 163.3 L94.6 165.8 L95.9 168.3 L97.3 170.8 L98.6 173.3 L99.9 175.8 L101.3 178.3 L102.6 180.8 L104 183.4 L105.4 185.9 L106.8 188.4 L108.2 190.9 L109.6 193.4 L111 195.9 L112.4 198.4 L113.8 200.9 L115.2 203.4 L116.7 206 L118.1 208.5 L119.6 211 L121 213.5 L122.5 216 L124 218.5 L125.5 221 L127 223.5 L128.5 226 L130 228.5 L131.5 231.1 L133.1 233.6 L134.6 236.1 L136.2 238.6 L137.7 241.1 L139.3 243.6 L140.9 246.1 L142.4 248.6 L144 251.1 L145.6 253.7 L147.2 256.2 L148.9 258.7 L150.5 261.2 L152.1 263.7 L153.8 266.2 L155.4 268.7 L157.1 271.2 L158.8 273.7 L160.4 276.3 L162.1 278.8 L163.8 281.3 L165.5 283.8 L167.2 286.3 L169 288.8 L170.7 291.3 L172.4 293.8 L174.2 296.3 L175.9 298.9 L177.7 301.4 L179.5 303.9 L181.3 306.4 L183.1 308.9 L184.9 311.4 L186.7 313.9 L188.5 316.4 L190.3 318.9 L192.2 321.5 L194 324 L195.9 326.5 L197.8 329 L199.6 331.5 L201.5 334 L203.4 336.5 L205.3 339 L207.3 341.5 L209.2 344.1 L211.1 346.6 L213.1 349.1 L215 351.6 L217 354.1 L218.9 356.6 L220.9 359.1 L222.9 361.6 L224.9 364.1 L226.9 366.7 L228.9 369.2 L231 371.7 L233 374.2 L235.1 376.7 L237.1 379.2 L239.2 381.7 L241.3 384.2 L243.4 386.7 L245.5 389.3 L247.6 391.8 L249.7 394.3 L251.8 396.8 L253.9 399.3 L256.1 401.8 L258.2 404.3 L260.4 406.8 L262.6 409.3 L264.8 411.9 L267 414.4 L269.2 416.9 L271.4 419.4 L273.6 421.9 L275.9 424.4 L278.1 426.9 L280.4 429.4 L282.6 431.9 L284.9 434.4 L287.2 437 L289.5 439.5 L291.8 442 L294.1 444.5 L296.4 447 L298.8 449.5 L301.1 452 L303.5 454.5 L305.9 457 L308.2 459.6 L310.6 462.1 L313 464.6 L315.4 467.1 L317.9 469.6 L320.3 472.1 L322.7 474.6 L325.2 477.1 L327.6 479.6 L330.1 482.2 L332.6 484.7 L335.1 487.2 L337.6 489.7 L340.1 492.2 L342.6 494.7 L345.2 497.2 L347.7 499.7 L350.3 502.2 L352.9 504.8 L355.4 507.3 L358 509.8 L360.6 512.3 L363.3 514.8 L365.9 517.3 L368.5 519.8 L371.2 522.3 L373.8 524.8 L376.5 527.4 L379.2 529.9 L381.9 532.4 L384.6 534.9 L387.3 537.4 L390 539.9 L392.7 542.4 L395.5 544.9 L398.2 547.4 L401 550 L403.8 552.5 L406.6 555 L409.4 557.5 L412.2 560 L415 562.5 L417.9 565 L420.7 567.5 L423.6 570 L426.4 572.6 L429.3 575.1 L432.2 577.6 L435.1 580.1 L438.1 582.6 L441 585.1 L443.9 587.6 L446.9 590.1 L449.8 592.6 L452.8 595.2 L455.8 597.7 L458.8 600.2 L461.8 602.7 L464.8 605.2 L467.9 607.7 L470.9 610.2 L474 612.7 L477.1 615.2 L480.1 617.8 L483.2 620.3 L486.3 622.8 L489.5 625.3 L492.6 627.8 L495.7 630.3 L498.9 632.8 L502.1 635.3 L505.2 637.8 L508.4 640.3 L511.6 642.9 L514.9 645.4 L518.1 647.9 L521.3 650.4 L524.6 652.9 L527.8 655.4 L531.1 657.9 L534.4 660.4 L537.7 662.9 L541 665.5 L544.4 668 L547.7 670.5 L551.1 673 L554.4 675.5 L557.8 678 L561.2 680.5 L564.6 683 L568 685.5 L571.4 688.1 L574.9 690.6 L578.3 693.1 L581.8 695.6 L585.3 698.1 L588.8 700.6 L592.3 703.1 L595.8 705.6 L599.3 708.1 L602.9 710.7 L606.4 713.2 L610 715.7 L613.6 718.2 L617.2 720.7 L620.8 723.2 L624.4 725.7 L628.1 728.2 L631.7 730.7 L635.4 733.3 L639.1 735.8 L642.8 738.3 L646.5 740.8 L650.2 743.3 L653.9 745.8 L657.7 748.3 L661.4 750.8 L665.2 753.3 L669 755.9 L672.8 758.4 L676.6 760.9 L680.4 763.4 L684.2 765.9 L688.1 768.4 L692 770.9 L695.8 773.4 L699.7 775.9 L703.6 778.5 L707.6 781 L711.5 783.5 L715.5 786 L719.4 788.5 L723.4 791 L727.4 793.5 L731.4 796 L735.4 798.5 L739.4 801.1 L743.5 803.6 L747.6 806.1 L751.6 808.6 L755.7 811.1M92.2 60.3 L93.3 62.8 L94.5 65.3 L95.6 67.8 L96.7 70.4 L97.8 72.9 L99 75.4 L100.1 77.9 L101.3 80.4 L102.4 82.9 L103.6 85.4 L104.8 87.9 L105.9 90.4 L107.1 93 L108.3 95.5 L109.5 98 L110.8 100.5 L112 103 L113.2 105.5 L114.5 108 L115.7 110.5 L117 113 L118.2 115.6 L119.5 118.1 L120.8 120.6 L122 123.1 L123.3 125.6 L124.6 128.1 L126 130.6 L127.3 133.1 L128.6 135.6 L129.9 138.2 L131.3 140.7 L132.6 143.2 L134 145.7 L135.3 148.2 L136.7 150.7 L138.1 153.2 L139.5 155.7 L140.9 158.2 L142.3 160.8 L143.7 163.3 L145.1 165.8 L146.6 168.3 L148 170.8 L149.5 173.3 L150.9 175.8 L152.4 178.3 L153.8 180.8 L155.3 183.4 L156.8 185.9 L158.3 188.4 L159.8 190.9 L161.3 193.4 L162.9 195.9 L164.4 198.4 L165.9 200.9 L167.5 203.4 L169 206 L170.6 208.5 L172.2 211 L173.8 213.5 L175.4 216 L177 218.5 L178.6 221 L180.2 223.5 L181.8 226 L183.4 228.5 L185.1 231.1 L186.7 233.6 L188.4 236.1 L190.1 238.6 L191.8 241.1 L193.4 243.6 L195.1 246.1 L196.8 248.6 L198.6 251.1 L200.3 253.7 L202 256.2 L203.8 258.7 L205.5 261.2 L207.3 263.7 L209 266.2 L210.8 268.7 L212.6 271.2 L214.4 273.7 L216.2 276.3 L218 278.8 L219.8 281.3 L221.7 283.8 L223.5 286.3 L225.4 288.8 L227.2 291.3 L229.1 293.8 L231 296.3 L232.9 298.9 L234.8 301.4 L236.7 303.9 L238.6 306.4 L240.5 308.9 L242.4 311.4 L244.4 313.9 L246.3 316.4 L248.3 318.9 L250.3 321.5 L252.2 324 L254.2 326.5 L256.2 329 L258.2 331.5 L260.3 334 L262.3 336.5 L264.3 339 L266.4 341.5 L268.4 344.1 L270.5 346.6 L272.6 349.1 L274.7 351.6 L276.8 354.1 L278.9 356.6 L281 359.1 L283.1 361.6 L285.3 364.1 L287.4 366.7 L289.6 369.2 L291.7 371.7 L293.9 374.2 L296.1 376.7 L298.3 379.2 L300.5 381.7 L302.7 384.2 L304.9 386.7 L307.2 389.3 L309.4 391.8 L311.7 394.3 L313.9 396.8 L316.2 399.3 L318.5 401.8 L320.8 404.3 L323.1 406.8 L325.4 409.3 L327.7 411.9 L330.1 414.4 L332.4 416.9 L334.8 419.4 L337.2 421.9 L339.5 424.4 L341.9 426.9 L344.3 429.4 L346.7 431.9 L349.2 434.4 L351.6 437 L354 439.5 L356.5 442 L359 444.5 L361.4 447 L363.9 449.5 L366.4 452 L368.9 454.5 L371.4 457 L374 459.6 L376.5 462.1 L379 464.6 L381.6 467.1 L384.2 469.6 L386.8 472.1 L389.3 474.6 L391.9 477.1 L394.6 479.6 L397.2 482.2 L399.8 484.7 L402.5 487.2 L405.1 489.7 L407.8 492.2 L410.5 494.7 L413.2 497.2 L415.9 499.7 L418.6 502.2 L421.3 504.8 L424 507.3 L426.8 509.8 L429.5 512.3 L432.3 514.8 L435.1 517.3 L437.9 519.8 L440.7 522.3 L443.5 524.8 L446.3 527.4 L449.2 529.9 L452 532.4 L454.9 534.9 L457.7 537.4 L460.6 539.9 L463.5 542.4 L466.4 544.9 L469.3 547.4 L472.3 550 L475.2 552.5 L478.2 555 L481.1 557.5 L484.1 560 L487.1 562.5 L490.1 565 L493.1 567.5 L496.1 570 L499.2 572.6 L502.2 575.1 L505.3 577.6 L508.3 580.1 L511.4 582.6 L514.5 585.1 L517.6 587.6 L520.8 590.1 L523.9 592.6 L527 595.2 L530.2 597.7 L533.3 600.2 L536.5 602.7 L539.7 605.2 L542.9 607.7 L546.1 610.2 L549.4 612.7 L552.6 615.2 L555.9 617.8 L559.1 620.3 L562.4 622.8 L565.7 625.3 L569 627.8 L572.3 630.3 L575.6 632.8 L579 635.3 L582.3 637.8 L585.7 640.3 L589.1 642.9 L592.5 645.4 L595.9 647.9 L599.3 650.4 L602.7 652.9 L606.2 655.4 L609.6 657.9 L613.1 660.4 L616.6 662.9 L620.1 665.5 L623.6 668 L627.1 670.5 L630.6 673 L634.2 675.5 L637.7 678 L641.3 680.5 L644.9 683 L648.5 685.5 L652.1 688.1 L655.7 690.6 L659.4 693.1 L663 695.6 L666.7 698.1 L670.3 700.6 L674 703.1 L677.7 705.6 L681.5 708.1 L685.2 710.7 L688.9 713.2 L692.7 715.7 L696.5 718.2 L700.2 720.7 L704 723.2 L707.9 725.7 L711.7 728.2 L715.5 730.7 L719.4 733.3 L723.2 735.8 L727.1 738.3 L731 740.8 L734.9 743.3 L738.8 745.8 L742.8 748.3 L746.7 750.8 L750.7 753.3 L754.7 755.9 L758.7 758.4 L762.7 760.9 L766.7 763.4 L770.7 765.9 L774.8 768.4 L778.8 770.9 L782.9 773.4 L787 775.9 L791.1 778.5 L795.2 781 L799.4 783.5 L803.5 786 L807.7 788.5 L811.8 791 L816 793.5 L820.2 796 L820.8 796.4M138.2 60.3 L139.4 62.8 L140.6 65.3 L141.8 67.8 L143.1 70.4 L144.3 72.9 L145.5 75.4 L146.8 77.9 L148.1 80.4 L149.3 82.9 L150.6 85.4 L151.9 87.9 L153.2 90.4 L154.5 93 L155.8 95.5 L157.1 98 L158.4 100.5 L159.7 103 L161.1 105.5 L162.4 108 L163.8 110.5 L165.1 113 L166.5 115.6 L167.9 118.1 L169.3 120.6 L170.7 123.1 L172.1 125.6 L173.5 128.1 L174.9 130.6 L176.3 133.1 L177.8 135.6 L179.2 138.2 L180.7 140.7 L182.1 143.2 L183.6 145.7 L185.1 148.2 L186.6 150.7 L188.1 153.2 L189.6 155.7 L191.1 158.2 L192.6 160.8 L194.1 163.3 L195.7 165.8 L197.2 168.3 L198.7 170.8 L200.3 173.3 L201.9 175.8 L203.5 178.3 L205.1 180.8 L206.6 183.4 L208.3 185.9 L209.9 188.4 L211.5 190.9 L213.1 193.4 L214.8 195.9 L216.4 198.4 L218.1 200.9 L219.7 203.4 L221.4 206 L223.1 208.5 L224.8 211 L226.5 213.5 L228.2 216 L229.9 218.5 L231.6 221 L233.4 223.5 L235.1 226 L236.9 228.5 L238.6 231.1 L240.4 233.6 L242.2 236.1 L244 238.6 L245.8 241.1 L247.6 243.6 L249.4 246.1 L251.3 248.6 L253.1 251.1 L254.9 253.7 L256.8 256.2 L258.7 258.7 L260.5 261.2 L262.4 263.7 L264.3 266.2 L266.2 268.7 L268.1 271.2 L270 273.7 L272 276.3 L273.9 278.8 L275.9 281.3 L277.8 283.8 L279.8 286.3 L281.8 288.8 L283.7 291.3 L285.7 293.8 L287.8 296.3 L289.8 298.9 L291.8 301.4 L293.8 303.9 L295.9 306.4 L297.9 308.9 L300 311.4 L302.1 313.9 L304.1 316.4 L306.2 318.9 L308.3 321.5 L310.5 324 L312.6 326.5 L314.7 329 L316.8 331.5 L319 334 L321.2 336.5 L323.3 339 L325.5 341.5 L327.7 344.1 L329.9 346.6 L332.1 349.1 L334.3 351.6 L336.6 354.1 L338.8 356.6 L341.1 359.1 L343.3 361.6 L345.6 364.1 L347.9 366.7 L350.2 369.2 L352.5 371.7 L354.8 374.2 L357.1 376.7 L359.4 379.2 L361.8 381.7 L364.1 384.2 L366.5 386.7 L368.9 389.3 L371.3 391.8 L373.7 394.3 L376.1 396.8 L378.5 399.3 L380.9 401.8 L383.3 404.3 L385.8 406.8 L388.3 409.3 L390.7 411.9 L393.2 414.4 L395.7 416.9 L398.2 419.4 L400.7 421.9 L403.2 424.4 L405.8 426.9 L408.3 429.4 L410.9 431.9 L413.4 434.4 L416 437 L418.6 439.5 L421.2 442 L423.8 444.5 L426.4 447 L429 449.5 L431.7 452 L434.3 454.5 L437 457 L439.7 459.6 L442.4 462.1 L445.1 464.6 L447.8 467.1 L450.5 469.6 L453.2 472.1 L456 474.6 L458.7 477.1 L461.5 479.6 L464.2 482.2 L467 484.7 L469.8 487.2 L472.6 489.7 L475.5 492.2 L478.3 494.7 L481.1 497.2 L484 499.7 L486.9 502.2 L489.7 504.8 L492.6 507.3 L495.5 509.8 L498.4 512.3 L501.4 514.8 L504.3 517.3 L507.3 519.8 L510.2 522.3 L513.2 524.8 L516.2 527.4 L519.2 529.9 L522.2 532.4 L525.2 534.9 L528.2 537.4 L531.3 539.9 L534.3 542.4 L537.4 544.9 L540.5 547.4 L543.5 550 L546.6 552.5 L549.8 555 L552.9 557.5 L556 560 L559.2 562.5 L562.3 565 L565.5 567.5 L568.7 570 L571.9 572.6 L575.1 575.1 L578.3 577.6 L581.6 580.1 L584.8 582.6 L588.1 585.1 L591.3 587.6 L594.6 590.1 L597.9 592.6 L601.2 595.2 L604.6 597.7 L607.9 600.2 L611.2 602.7 L614.6 605.2 L618 607.7 L621.4 610.2 L624.8 612.7 L628.2 615.2 L631.6 617.8 L635 620.3 L638.5 622.8 L641.9 625.3 L645.4 627.8 L648.9 630.3 L652.4 632.8 L655.9 635.3 L659.4 637.8 L663 640.3 L666.5 642.9 L670.1 645.4 L673.7 647.9 L677.3 650.4 L680.9 652.9 L684.5 655.4 L688.1 657.9 L691.8 660.4 L695.4 662.9 L699.1 665.5 L702.8 668 L706.5 670.5 L710.2 673 L713.9 675.5 L717.7 678 L721.4 680.5 L725.2 683 L728.9 685.5 L732.7 688.1 L736.5 690.6 L740.4 693.1 L744.2 695.6 L748 698.1 L751.9 700.6 L755.8 703.1 L759.7 705.6 L763.6 708.1 L767.5 710.7 L771.4 713.2 L775.4 715.7 L779.3 718.2 L783.3 720.7 L787.3 723.2 L791.3 725.7 L795.3 728.2 L799.3 730.7 L803.4 733.3 L807.4 735.8 L811.5 738.3 L815.6 740.8 L819.7 743.3 L820.8 744M184.2 60.3 L185.5 62.8 L186.8 65.3 L188.1 67.8 L189.4 70.4 L190.8 72.9 L192.1 75.4 L193.5 77.9 L194.9 80.4 L196.2 82.9 L197.6 85.4 L199 87.9 L200.4 90.4 L201.8 93 L203.2 95.5 L204.6 98 L206.1 100.5 L207.5 103 L208.9 105.5 L210.4 108 L211.9 110.5 L213.3 113 L214.8 115.6 L216.3 118.1 L217.8 120.6 L219.3 123.1 L220.8 125.6 L222.3 128.1 L223.9 130.6 L225.4 133.1 L226.9 135.6 L228.5 138.2 L230.1 140.7 L231.6 143.2 L233.2 145.7 L234.8 148.2 L236.4 150.7 L238 153.2 L239.6 155.7 L241.2 158.2 L242.9 160.8 L244.5 163.3 L246.2 165.8 L247.8 168.3 L249.5 170.8 L251.2 173.3 L252.9 175.8 L254.5 178.3 L256.3 180.8 L258 183.4 L259.7 185.9 L261.4 188.4 L263.2 190.9 L264.9 193.4 L266.7 195.9 L268.4 198.4 L270.2 200.9 L272 203.4 L273.8 206 L275.6 208.5 L277.4 211 L279.2 213.5 L281 216 L282.9 218.5 L284.7 221 L286.6 223.5 L288.4 226 L290.3 228.5 L292.2 231.1 L294.1 233.6 L296 236.1 L297.9 238.6 L299.8 241.1 L301.8 243.6 L303.7 246.1 L305.7 248.6 L307.6 251.1 L309.6 253.7 L311.6 256.2 L313.6 258.7 L315.6 261.2 L317.6 263.7 L319.6 266.2 L321.6 268.7 L323.6 271.2 L325.7 273.7 L327.7 276.3 L329.8 278.8 L331.9 281.3 L334 283.8 L336.1 286.3 L338.2 288.8 L340.3 291.3 L342.4 293.8 L344.5 296.3 L346.7 298.9 L348.8 301.4 L351 303.9 L353.2 306.4 L355.3 308.9 L357.5 311.4 L359.7 313.9 L362 316.4 L364.2 318.9 L366.4 321.5 L368.7 324 L370.9 326.5 L373.2 329 L375.4 331.5 L377.7 334 L380 336.5 L382.3 339 L384.6 341.5 L387 344.1 L389.3 346.6 L391.6 349.1 L394 351.6 L396.4 354.1 L398.7 356.6 L401.1 359.1 L403.5 361.6 L405.9 364.1 L408.4 366.7 L410.8 369.2 L413.2 371.7 L415.7 374.2 L418.1 376.7 L420.6 379.2 L423.1 381.7 L425.6 384.2 L428.1 386.7 L430.6 389.3 L433.1 391.8 L435.6 394.3 L438.2 396.8 L440.7 399.3 L443.3 401.8 L445.9 404.3 L448.5 406.8 L451.1 409.3 L453.7 411.9 L456.3 414.4 L458.9 416.9 L461.6 419.4 L464.2 421.9 L466.9 424.4 L469.6 426.9 L472.3 429.4 L475 431.9 L477.7 434.4 L480.4 437 L483.1 439.5 L485.9 442 L488.6 444.5 L491.4 447 L494.2 449.5 L497 452 L499.8 454.5 L502.6 457 L505.4 459.6 L508.2 462.1 L511.1 464.6 L513.9 467.1 L516.8 469.6 L519.7 472.1 L522.6 474.6 L525.5 477.1 L528.4 479.6 L531.3 482.2 L534.3 484.7 L537.2 487.2 L540.2 489.7 L543.1 492.2 L546.1 494.7 L549.1 497.2 L552.1 499.7 L555.1 502.2 L558.2 504.8 L561.2 507.3 L564.3 509.8 L567.3 512.3 L570.4 514.8 L573.5 517.3 L576.6 519.8 L579.7 522.3 L582.9 524.8 L586 527.4 L589.2 529.9 L592.3 532.4 L595.5 534.9 L598.7 537.4 L601.9 539.9 L605.1 542.4 L608.3 544.9 L611.6 547.4 L614.8 550 L618.1 552.5 L621.3 555 L624.6 557.5 L627.9 560 L631.2 562.5 L634.6 565 L637.9 567.5 L641.3 570 L644.6 572.6 L648 575.1 L651.4 577.6 L654.8 580.1 L658.2 582.6 L661.6 585.1 L665.1 587.6 L668.5 590.1 L672 592.6 L675.4 595.2 L678.9 597.7 L682.4 600.2 L686 602.7 L689.5 605.2 L693 607.7 L696.6 610.2 L700.1 612.7 L703.7 615.2 L707.3 617.8 L710.9 620.3 L714.5 622.8 L718.2 625.3 L721.8 627.8 L725.5 630.3 L729.2 632.8 L732.8 635.3 L736.5 637.8 L740.3 640.3 L744 642.9 L747.7 645.4 L751.5 647.9 L755.2 650.4 L759 652.9 L762.8 655.4 L766.6 657.9 L770.4 660.4 L774.3 662.9 L778.1 665.5 L782 668 L785.9 670.5 L789.8 673 L793.7 675.5 L797.6 678 L801.5 680.5 L805.5 683 L809.4 685.5 L813.4 688.1 L817.4 690.6 L820.8 692.7M230.1 60.3 L231.5 62.8 L233 65.3 L234.4 67.8 L235.8 70.4 L237.3 72.9 L238.7 75.4 L240.2 77.9 L241.7 80.4 L243.1 82.9 L244.6 85.4 L246.1 87.9 L247.6 90.4 L249.1 93 L250.6 95.5 L252.2 98 L253.7 100.5 L255.2 103 L256.8 105.5 L258.4 108 L259.9 110.5 L261.5 113 L263.1 115.6 L264.7 118.1 L266.3 120.6 L267.9 123.1 L269.5 125.6 L271.2 128.1 L272.8 130.6 L274.5 133.1 L276.1 135.6 L277.8 138.2 L279.4 140.7 L281.1 143.2 L282.8 145.7 L284.5 148.2 L286.2 150.7 L288 153.2 L289.7 155.7 L291.4 158.2 L293.2 160.8 L294.9 163.3 L296.7 165.8 L298.5 168.3 L300.2 170.8 L302 173.3 L303.8 175.8 L305.6 178.3 L307.5 180.8 L309.3 183.4 L311.1 185.9 L313 188.4 L314.8 190.9 L316.7 193.4 L318.6 195.9 L320.4 198.4 L322.3 200.9 L324.2 203.4 L326.1 206 L328.1 208.5 L330 211 L331.9 213.5 L333.9 216 L335.8 218.5 L337.8 221 L339.8 223.5 L341.8 226 L343.8 228.5 L345.8 231.1 L347.8 233.6 L349.8 236.1 L351.8 238.6 L353.9 241.1 L355.9 243.6 L358 246.1 L360.1 248.6 L362.2 251.1 L364.2 253.7 L366.3 256.2 L368.5 258.7 L370.6 261.2 L372.7 263.7 L374.8 266.2 L377 268.7 L379.2 271.2 L381.3 273.7 L383.5 276.3 L385.7 278.8 L387.9 281.3 L390.1 283.8 L392.3 286.3 L394.6 288.8 L396.8 291.3 L399.1 293.8 L401.3 296.3 L403.6 298.9 L405.9 301.4 L408.2 303.9 L410.5 306.4 L412.8 308.9 L415.1 311.4 L417.4 313.9 L419.8 316.4 L422.1 318.9 L424.5 321.5 L426.9 324 L429.2 326.5 L431.6 329 L434 331.5 L436.5 334 L438.9 336.5 L441.3 339 L443.8 341.5 L446.2 344.1 L448.7 346.6 L451.2 349.1 L453.7 351.6 L456.2 354.1 L458.7 356.6 L461.2 359.1 L463.7 361.6 L466.3 364.1 L468.8 366.7 L471.4 369.2 L474 371.7 L476.6 374.2 L479.1 376.7 L481.8 379.2 L484.4 381.7 L487 384.2 L489.6 386.7 L492.3 389.3 L495 391.8 L497.6 394.3 L500.3 396.8 L503 399.3 L505.7 401.8 L508.4 404.3 L511.2 406.8 L513.9 409.3 L516.7 411.9 L519.4 414.4 L522.2 416.9 L525 419.4 L527.8 421.9 L530.6 424.4 L533.4 426.9 L536.2 429.4 L539.1 431.9 L541.9 434.4 L544.8 437 L547.7 439.5 L550.6 442 L553.5 444.5 L556.4 447 L559.3 449.5 L562.2 452 L565.2 454.5 L568.1 457 L571.1 459.6 L574.1 462.1 L577.1 464.6 L580.1 467.1 L583.1 469.6 L586.1 472.1 L589.2 474.6 L592.2 477.1 L595.3 479.6 L598.4 482.2 L601.5 484.7 L604.6 487.2 L607.7 489.7 L610.8 492.2 L613.9 494.7 L617.1 497.2 L620.3 499.7 L623.4 502.2 L626.6 504.8 L629.8 507.3 L633 509.8 L636.2 512.3 L639.5 514.8 L642.7 517.3 L646 519.8 L649.3 522.3 L652.5 524.8 L655.8 527.4 L659.1 529.9 L662.5 532.4 L665.8 534.9 L669.1 537.4 L672.5 539.9 L675.9 542.4 L679.3 544.9 L682.7 547.4 L686.1 550 L689.5 552.5 L692.9 555 L696.4 557.5 L699.8 560 L703.3 562.5 L706.8 565 L710.3 567.5 L713.8 570 L717.3 572.6 L720.9 575.1 L724.4 577.6 L728 580.1 L731.6 582.6 L735.2 585.1 L738.8 587.6 L742.4 590.1 L746 592.6 L749.7 595.2 L753.3 597.7 L757 600.2 L760.7 602.7 L764.4 605.2 L768.1 607.7 L771.8 610.2 L775.5 612.7 L779.3 615.2 L783 617.8 L786.8 620.3 L790.6 622.8 L794.4 625.3 L798.2 627.8 L802.1 630.3 L805.9 632.8 L809.8 635.3 L813.6 637.8 L817.5 640.3 L820.8 642.5M276.1 60.3 L277.6 62.8 L279.1 65.3 L280.7 67.8 L282.2 70.4 L283.8 72.9 L285.3 75.4 L286.9 77.9 L288.4 80.4 L290 82.9 L291.6 85.4 L293.2 87.9 L294.8 90.4 L296.4 93 L298.1 95.5 L299.7 98 L301.3 100.5 L303 103 L304.7 105.5 L306.3 108 L308 110.5 L309.7 113 L311.4 115.6 L313.1 118.1 L314.8 120.6 L316.5 123.1 L318.3 125.6 L320 128.1 L321.8 130.6 L323.5 133.1 L325.3 135.6 L327.1 138.2 L328.8 140.7 L330.6 143.2 L332.4 145.7 L334.3 148.2 L336.1 150.7 L337.9 153.2 L339.7 155.7 L341.6 158.2 L343.5 160.8 L345.3 163.3 L347.2 165.8 L349.1 168.3 L351 170.8 L352.9 173.3 L354.8 175.8 L356.7 178.3 L358.7 180.8 L360.6 183.4 L362.6 185.9 L364.5 188.4 L366.5 190.9 L368.5 193.4 L370.5 195.9 L372.5 198.4 L374.5 200.9 L376.5 203.4 L378.5 206 L380.5 208.5 L382.6 211 L384.7 213.5 L386.7 216 L388.8 218.5 L390.9 221 L393 223.5 L395.1 226 L397.2 228.5 L399.3 231.1 L401.5 233.6 L403.6 236.1 L405.8 238.6 L407.9 241.1 L410.1 243.6 L412.3 246.1 L414.5 248.6 L416.7 251.1 L418.9 253.7 L421.1 256.2 L423.4 258.7 L425.6 261.2 L427.9 263.7 L430.1 266.2 L432.4 268.7 L434.7 271.2 L437 273.7 L439.3 276.3 L441.6 278.8 L443.9 281.3 L446.3 283.8 L448.6 286.3 L451 288.8 L453.3 291.3 L455.7 293.8 L458.1 296.3 L460.5 298.9 L462.9 301.4 L465.3 303.9 L467.8 306.4 L470.2 308.9 L472.7 311.4 L475.1 313.9 L477.6 316.4 L480.1 318.9 L482.6 321.5 L485.1 324 L487.6 326.5 L490.1 329 L492.6 331.5 L495.2 334 L497.8 336.5 L500.3 339 L502.9 341.5 L505.5 344.1 L508.1 346.6 L510.7 349.1 L513.3 351.6 L516 354.1 L518.6 356.6 L521.3 359.1 L523.9 361.6 L526.6 364.1 L529.3 366.7 L532 369.2 L534.7 371.7 L537.4 374.2 L540.2 376.7 L542.9 379.2 L545.7 381.7 L548.4 384.2 L551.2 386.7 L554 389.3 L556.8 391.8 L559.6 394.3 L562.4 396.8 L565.3 399.3 L568.1 401.8 L571 404.3 L573.9 406.8 L576.7 409.3 L579.6 411.9 L582.5 414.4 L585.5 416.9 L588.4 419.4 L591.3 421.9 L594.3 424.4 L597.2 426.9 L600.2 429.4 L603.2 431.9 L606.2 434.4 L609.2 437 L612.2 439.5 L615.3 442 L618.3 444.5 L621.4 447 L624.4 449.5 L627.5 452 L630.6 454.5 L633.7 457 L636.8 459.6 L640 462.1 L643.1 464.6 L646.3 467.1 L649.4 469.6 L652.6 472.1 L655.8 474.6 L659 477.1 L662.2 479.6 L665.4 482.2 L668.7 484.7 L671.9 487.2 L675.2 489.7 L678.5 492.2 L681.8 494.7 L685.1 497.2 L686.5 498.3M322.1 60.3 L323.7 62.8 L325.3 65.3 L326.9 67.8 L328.6 70.4 L330.2 72.9 L331.9 75.4 L333.6 77.9 L335.2 80.4 L336.9 82.9 L338.6 85.4 L340.3 87.9 L342 90.4 L343.8 93 L345.5 95.5 L347.2 98 L349 100.5 L350.8 103 L352.5 105.5 L354.3 108 L356.1 110.5 L357.9 113 L359.7 115.6 L361.5 118.1 L363.3 120.6 L365.2 123.1 L367 125.6 L368.8 128.1 L370.7 130.6 L372.6 133.1 L374.4 135.6 L376.3 138.2 L378.2 140.7 L380.1 143.2 L382.1 145.7 L384 148.2 L385.9 150.7 L387.9 153.2 L389.8 155.7 L391.8 158.2 L393.7 160.8 L395.7 163.3 L397.7 165.8 L399.7 168.3 L401.7 170.8 L403.7 173.3 L405.8 175.8 L407.8 178.3 L409.9 180.8 L411.9 183.4 L414 185.9 L416.1 188.4 L418.1 190.9 L420.2 193.4 L422.4 195.9 L424.5 198.4 L426.6 200.9 L428.7 203.4 L430.9 206 L433 208.5 L435.2 211 L437.4 213.5 L439.6 216 L441.8 218.5 L444 221 L446.2 223.5 L448.4 226 L450.6 228.5 L452.9 231.1 L455.1 233.6 L457.4 236.1 L459.7 238.6 L462 241.1 L464.3 243.6 L466.6 246.1 L468.9 248.6 L471.2 251.1 L473.5 253.7 L475.9 256.2 L478.3 258.7 L480.6 261.2 L483 263.7 L485.4 266.2 L487.8 268.7 L490.2 271.2 L492.6 273.7 L495.1 276.3 L497.5 278.8 L499.9 281.3 L502.4 283.8 L504.9 286.3 L507.4 288.8 L509.9 291.3 L512.4 293.8 L514.9 296.3 L517.4 298.9 L519.9 301.4 L522.5 303.9 L525.1 306.4 L527.6 308.9 L530.2 311.4 L532.8 313.9 L535.4 316.4 L538 318.9 L540.6 321.5 L543.3 324 L545.9 326.5 L548.6 329 L551.2 331.5 L553.9 334 L556.6 336.5 L559.3 339 L562 341.5 L564.8 344.1 L567.5 346.6 L570.2 349.1 L573 351.6 L575.8 354.1 L578.5 356.6 L581.3 359.1 L584.1 361.6 L586.9 364.1 L589.8 366.7 L592.6 369.2 L595.5 371.7 L598.3 374.2 L601.2 376.7 L604.1 379.2 L607 381.7 L609.9 384.2 L612.8 386.7 L615.7 389.3 L618.7 391.8 L621.6 394.3 L624.6 396.8 L627.6 399.3 L630.5 401.8 L633.5 404.3 L636.6 406.8 L639.6 409.3 L642.6 411.9 L645.7 414.4 L648.7 416.9 L651.8 419.4 L654.9 421.9 L658 424.4 L661.1 426.9 L664.2 429.4 L667.3 431.9 L670.5 434.4 L673.6 437 L676.8 439.5 L680 442 L683.2 444.5 L686.4 447 L686.5 447.1M368 60.3 L369.7 62.8 L371.5 65.3 L373.2 67.8 L375 70.4 L376.7 72.9 L378.5 75.4 L380.3 77.9 L382 80.4 L383.8 82.9 L385.6 85.4 L387.4 87.9 L389.3 90.4 L391.1 93 L392.9 95.5 L394.8 98 L396.6 100.5 L398.5 103 L400.4 105.5 L402.3 108 L404.2 110.5 L406.1 113 L408 115.6 L409.9 118.1 L411.8 120.6 L413.8 123.1 L415.7 125.6 L417.7 128.1 L419.7 130.6 L421.6 133.1 L423.6 135.6 L425.6 138.2 L427.6 140.7 L429.6 143.2 L431.7 145.7 L433.7 148.2 L435.8 150.7 L437.8 153.2 L439.9 155.7 L441.9 158.2 L444 160.8 L446.1 163.3 L448.2 165.8 L450.3 168.3 L452.5 170.8 L454.6 173.3 L456.7 175.8 L458.9 178.3 L461.1 180.8 L463.2 183.4 L465.4 185.9 L467.6 188.4 L469.8 190.9 L472 193.4 L474.2 195.9 L476.5 198.4 L478.7 200.9 L481 203.4 L483.2 206 L485.5 208.5 L487.8 211 L490.1 213.5 L492.4 216 L494.7 218.5 L497 221 L499.4 223.5 L501.7 226 L504.1 228.5 L506.4 231.1 L508.8 233.6 L511.2 236.1 L513.6 238.6 L516 241.1 L518.4 243.6 L520.9 246.1 L523.3 248.6 L525.7 251.1 L528.2 253.7 L530.7 256.2 L533.2 258.7 L535.6 261.2 L538.1 263.7 L540.7 266.2 L543.2 268.7 L545.7 271.2 L548.3 273.7 L550.8 276.3 L553.4 278.8 L556 281.3 L558.6 283.8 L561.2 286.3 L563.8 288.8 L566.4 291.3 L569 293.8 L571.7 296.3 L574.3 298.9 L577 301.4 L579.7 303.9 L582.4 306.4 L585.1 308.9 L587.8 311.4 L590.5 313.9 L593.2 316.4 L596 318.9 L598.7 321.5 L601.5 324 L604.3 326.5 L607 329 L609.8 331.5 L612.7 334 L615.5 336.5 L618.3 339 L621.2 341.5 L624 344.1 L626.9 346.6 L629.8 349.1 L632.7 351.6 L635.6 354.1 L638.5 356.6 L641.4 359.1 L644.3 361.6 L647.3 364.1 L650.2 366.7 L653.2 369.2 L656.2 371.7 L659.2 374.2 L662.2 376.7 L665.2 379.2 L668.3 381.7 L671.3 384.2 L674.4 386.7 L677.4 389.3 L680.5 391.8 L683.6 394.3 L686.5 396.6M414 60.3 L415.8 62.8 L417.6 65.3 L419.5 67.8 L421.3 70.4 L423.2 72.9 L425.1 75.4 L426.9 77.9 L428.8 80.4 L430.7 82.9 L432.6 85.4 L434.6 87.9 L436.5 90.4 L438.4 93 L440.4 95.5 L442.3 98 L444.3 100.5 L446.3 103 L448.2 105.5 L450.2 108 L452.2 110.5 L454.3 113 L456.3 115.6 L458.3 118.1 L460.3 120.6 L462.4 123.1 L464.5 125.6 L466.5 128.1 L468.6 130.6 L470.7 133.1 L472.8 135.6 L474.9 138.2 L477 140.7 L479.1 143.2 L481.3 145.7 L483.4 148.2 L485.6 150.7 L487.8 153.2 L489.9 155.7 L492.1 158.2 L494.3 160.8 L496.5 163.3 L498.7 165.8 L501 168.3 L503.2 170.8 L505.5 173.3 L507.7 175.8 L510 178.3 L512.3 180.8 L514.6 183.4 L516.8 185.9 L519.2 188.4 L521.5 190.9 L523.8 193.4 L526.1 195.9 L528.5 198.4 L530.9 200.9 L533.2 203.4 L535.6 206 L538 208.5 L540.4 211 L542.8 213.5 L545.2 216 L547.7 218.5 L550.1 221 L552.6 223.5 L555 226 L557.5 228.5 L560 231.1 L562.5 233.6 L565 236.1 L567.5 238.6 L570 241.1 L572.6 243.6 L575.1 246.1 L577.7 248.6 L580.3 251.1 L582.9 253.7 L585.4 256.2 L588.1 258.7 L590.7 261.2 L593.3 263.7 L595.9 266.2 L598.6 268.7 L601.2 271.2 L603.9 273.7 L606.6 276.3 L609.3 278.8 L612 281.3 L614.7 283.8 L617.4 286.3 L620.2 288.8 L622.9 291.3 L625.7 293.8 L628.5 296.3 L631.2 298.9 L634 301.4 L636.8 303.9 L639.6 306.4 L642.5 308.9 L645.3 311.4 L648.2 313.9 L651 316.4 L653.9 318.9 L656.8 321.5 L659.7 324 L662.6 326.5 L665.5 329 L668.4 331.5 L671.4 334 L674.3 336.5 L677.3 339 L680.3 341.5 L683.3 344.1 L686.3 346.6 L686.5 346.7M459.9 60.3 L461.9 62.8 L463.8 65.3 L465.8 67.8 L467.7 70.4 L469.7 72.9 L471.7 75.4 L473.6 77.9 L475.6 80.4 L477.6 82.9 L479.7 85.4 L481.7 87.9 L483.7 90.4 L485.7 93 L487.8 95.5 L489.9 98 L491.9 100.5 L494 103 L496.1 105.5 L498.2 108 L500.3 110.5 L502.4 113 L504.6 115.6 L506.7 118.1 L508.9 120.6 L511 123.1 L513.2 125.6 L515.4 128.1 L517.6 130.6 L519.8 133.1 L522 135.6 L524.2 138.2 L526.4 140.7 L528.6 143.2 L530.9 145.7 L533.2 148.2 L535.4 150.7 L537.7 153.2 L540 155.7 L542.3 158.2 L544.6 160.8 L546.9 163.3 L549.3 165.8 L551.6 168.3 L554 170.8 L556.3 173.3 L558.7 175.8 L561.1 178.3 L563.5 180.8 L565.9 183.4 L568.3 185.9 L570.7 188.4 L573.1 190.9 L575.6 193.4 L578 195.9 L580.5 198.4 L583 200.9 L585.5 203.4 L588 206 L590.5 208.5 L593 211 L595.5 213.5 L598.1 216 L600.6 218.5 L603.2 221 L605.8 223.5 L608.4 226 L610.9 228.5 L613.6 231.1 L616.2 233.6 L618.8 236.1 L621.4 238.6 L624.1 241.1 L626.8 243.6 L629.4 246.1 L632.1 248.6 L634.8 251.1 L637.5 253.7 L640.2 256.2 L643 258.7 L645.7 261.2 L648.4 263.7 L651.2 266.2 L654 268.7 L656.8 271.2 L659.6 273.7 L662.4 276.3 L665.2 278.8 L668 281.3 L670.9 283.8 L673.7 286.3 L676.6 288.8 L679.4 291.3 L682.3 293.8 L685.2 296.3 L686.5 297.4M505.9 60.3 L507.9 62.8 L510 65.3 L512 67.8 L514.1 70.4 L516.2 72.9 L518.2 75.4 L520.3 77.9 L522.4 80.4 L524.5 82.9 L526.7 85.4 L528.8 87.9 L530.9 90.4 L533.1 93 L535.2 95.5 L537.4 98 L539.6 100.5 L541.8 103 L544 105.5 L546.2 108 L548.4 110.5 L550.6 113 L552.9 115.6 L555.1 118.1 L557.4 120.6 L559.6 123.1 L561.9 125.6 L564.2 128.1 L566.5 130.6 L568.8 133.1 L571.1 135.6 L573.5 138.2 L575.8 140.7 L578.2 143.2 L580.5 145.7 L582.9 148.2 L585.3 150.7 L587.7 153.2 L590.1 155.7 L592.5 158.2 L594.9 160.8 L597.3 163.3 L599.8 165.8 L602.2 168.3 L604.7 170.8 L607.2 173.3 L609.7 175.8 L612.2 178.3 L614.7 180.8 L617.2 183.4 L619.7 185.9 L622.3 188.4 L624.8 190.9 L627.4 193.4 L629.9 195.9 L632.5 198.4 L635.1 200.9 L637.7 203.4 L640.3 206 L643 208.5 L645.6 211 L648.3 213.5 L650.9 216 L653.6 218.5 L656.3 221 L659 223.5 L661.7 226 L664.4 228.5 L667.1 231.1 L669.9 233.6 L672.6 236.1 L675.4 238.6 L678.1 241.1 L680.9 243.6 L683.7 246.1 L686.5 248.6M551.9 60.3 L554 62.8 L556.1 65.3 L558.3 67.8 L560.5 70.4 L562.6 72.9 L564.8 75.4 L567 77.9 L569.2 80.4 L571.4 82.9 L573.7 85.4 L575.9 87.9 L578.1 90.4 L580.4 93 L582.7 95.5 L584.9 98 L587.2 100.5 L589.5 103 L591.8 105.5 L594.1 108 L596.5 110.5 L598.8 113 L601.2 115.6 L603.5 118.1 L605.9 120.6 L608.3 123.1 L610.6 125.6 L613 128.1 L615.5 130.6 L617.9 133.1 L620.3 135.6 L622.7 138.2 L625.2 140.7 L627.7 143.2 L630.1 145.7 L632.6 148.2 L635.1 150.7 L637.6 153.2 L640.1 155.7 L642.7 158.2 L645.2 160.8 L647.7 163.3 L650.3 165.8 L652.9 168.3 L655.4 170.8 L658 173.3 L660.6 175.8 L663.2 178.3 L665.9 180.8 L668.5 183.4 L671.1 185.9 L673.8 188.4 L676.5 190.9 L679.2 193.4 L681.8 195.9 L684.5 198.4 L686.5 200.2M597.8 60.3 L600.1 62.8 L602.3 65.3 L604.6 67.8 L606.8 70.4 L609.1 72.9 L611.4 75.4 L613.7 77.9 L616 80.4 L618.3 82.9 L620.7 85.4 L623 87.9 L625.4 90.4 L627.7 93 L630.1 95.5 L632.5 98 L634.9 100.5 L637.3 103 L639.7 105.5 L642.1 108 L644.5 110.5 L647 113 L649.4 115.6 L651.9 118.1 L654.4 120.6 L656.9 123.1 L659.4 125.6 L661.9 128.1 L664.4 130.6 L666.9 133.1 L669.5 135.6 L672 138.2 L674.6 140.7 L677.2 143.2 L679.7 145.7 L682.3 148.2 L684.9 150.7 L686.5 152.2M643.8 60.3 L646.1 62.8 L648.5 65.3 L650.9 67.8 L653.2 70.4 L655.6 72.9 L658 75.4 L660.4 77.9 L662.8 80.4 L665.2 82.9 L667.7 85.4 L670.1 87.9 L672.6 90.4 L675.1 93 L677.5 95.5 L680 98 L682.5 100.5 L685 103 L686.5 104.5" stroke="#A83A3C" stroke-width="1.1" fill="none" clip-path="url(#cd)"/>
<path d="M457.1 795.5 L453.6 787.8 L450.1 780.1 L446.5 772.3 L442.8 764.6 L439 756.9 L435.1 749.2 L431.2 741.5 L427.1 733.7 L422.8 726 L418.5 718.3 L414.1 710.6 L409.5 702.8 L404.7 695.1 L399.9 687.4 L394.9 679.7 L389.7 671.9 L384.5 664.2 L379.1 656.5 L373.5 648.8 L367.8 641.1 L362 633.3 L356.1 625.6 L350.2 617.9 L344.1 610.2 L338 602.4 L331.7 594.7 L325.5 587 L319.1 579.3 L312.7 571.5 L306.3 563.8 L299.9 556.1 L293.4 548.4 L286.9 540.7 L280.4 532.9 L273.9 525.2 L267.4 517.5 L260.9 509.8 L254.4 502 L247.9 494.3 L241.5 486.6 L235 478.9 L228.6 471.1 L222.3 463.4 L216 455.7 L209.7 448 L203.5 440.2 L197.3 432.5 L191.2 424.8 L185.2 417.1 L179.2 409.4 L173.2 401.6 L167.4 393.9 L161.6 386.2 L155.8 378.5 L150.2 370.7 L144.6 363 L139.1 355.3 L133.6 347.6 L128.3 339.8M495.5 795.5 L492.6 787.8 L489.8 780.1 L486.8 772.3 L483.9 764.6 L480.8 756.9 L477.7 749.2 L474.5 741.5 L471.2 733.7 L467.8 726 L464.2 718.3 L460.5 710.6 L456.7 702.8 L452.8 695.1 L448.8 687.4 L444.7 679.7 L440.5 671.9 L436.1 664.2 L431.6 656.5 L426.9 648.8 L422.2 641.1 L417.3 633.3 L412.2 625.6 L407 617.9 L401.7 610.2 L396.3 602.4 L390.8 594.7 L385.1 587 L379.3 579.3 L373.5 571.5 L367.5 563.8 L361.5 556.1 L355.3 548.4 L349.1 540.7 L342.9 532.9 L336.6 525.2 L330.3 517.5 L323.9 509.8 L317.5 502 L311 494.3 L304.6 486.6 L298.2 478.9 L291.7 471.1 L285.3 463.4 L278.9 455.7 L272.5 448 L266.1 440.2 L259.7 432.5 L253.4 424.8 L247.1 417.1 L240.9 409.4 L234.7 401.6 L228.6 393.9 L222.5 386.2 L216.5 378.5 L210.5 370.7 L204.6 363 L198.8 355.3 L193 347.6 L187.3 339.8M535.6 795.5 L533.2 787.8 L530.7 780.1 L528.3 772.3 L525.8 764.6 L523.2 756.9 L520.5 749.2 L517.9 741.5 L515.2 733.7 L512.5 726 L509.7 718.3 L506.9 710.6 L504 702.8 L501 695.1 L497.9 687.4 L494.7 679.7 L491.4 671.9 L488 664.2 L484.4 656.5 L480.8 648.8 L477 641.1 L473.1 633.3 L469.1 625.6 L464.9 617.9 L460.5 610.2 L456.1 602.4 L451.4 594.7 L446.7 587 L441.8 579.3 L436.8 571.5 L431.6 563.8 L426.3 556.1 L420.9 548.4 L415.3 540.7 L409.7 532.9 L404 525.2 L398.1 517.5 L392.2 509.8 L386.2 502 L380.1 494.3 L374 486.6 L367.8 478.9 L361.6 471.1 L355.3 463.4 L349 455.7 L342.7 448 L336.3 440.2 L330 432.5 L323.7 424.8 L317.4 417.1 L311 409.4 L304.8 401.6 L298.5 393.9 L292.3 386.2 L286.1 378.5 L279.9 370.7 L273.8 363 L267.7 355.3 L261.7 347.6 L255.8 339.8M576.9 795.5 L574.7 787.8 L572.6 780.1 L570.5 772.3 L568.5 764.6 L566.4 756.9 L564.4 749.2 L562.3 741.5 L560.3 733.7 L558.2 726 L556.1 718.3 L554 710.6 L551.8 702.8 L549.6 695.1 L547.3 687.4 L545 679.7 L542.5 671.9 L540 664.2 L537.4 656.5 L534.7 648.8 L531.9 641.1 L529 633.3 L526 625.6 L522.9 617.9 L519.6 610.2 L516.2 602.4 L512.7 594.7 L509 587 L505.2 579.3 L501.3 571.5 L497.2 563.8 L493 556.1 L488.7 548.4 L484.2 540.7 L479.6 532.9 L474.8 525.2 L469.9 517.5 L464.9 509.8 L459.8 502 L454.5 494.3 L449.1 486.6 L443.7 478.9 L438.1 471.1 L432.5 463.4 L426.8 455.7 L421 448 L415.1 440.2 L409.2 432.5 L403.3 424.8 L397.3 417.1 L391.3 409.4 L385.3 401.6 L379.3 393.9 L373.3 386.2 L367.2 378.5 L361.2 370.7 L355.2 363 L349.3 355.3 L343.4 347.6 L337.5 339.8M619.1 795.5 L617.4 787.8 L615.8 780.1 L614.1 772.3 L612.4 764.6 L610.8 756.9 L609.2 749.2 L607.7 741.5 L606.1 733.7 L604.6 726 L603 718.3 L601.4 710.6 L599.9 702.8 L598.3 695.1 L596.6 687.4 L595 679.7 L593.3 671.9 L591.5 664.2 L589.7 656.5 L587.8 648.8 L585.9 641.1 L583.9 633.3 L581.8 625.6 L579.6 617.9 L577.4 610.2 L575.1 602.4 L572.6 594.7 L570.1 587 L567.5 579.3 L564.7 571.5 L561.9 563.8 L558.9 556.1 L555.8 548.4 L552.6 540.7 L549.2 532.9 L545.8 525.2 L542.2 517.5 L538.4 509.8 L534.6 502 L530.6 494.3 L526.5 486.6 L522.2 478.9 L517.9 471.1 L513.4 463.4 L508.8 455.7 L504.1 448 L499.3 440.2 L494.4 432.5 L489.4 424.8 L484.3 417.1 L479.1 409.4 L473.8 401.6 L468.5 393.9 L463.2 386.2 L457.8 378.5 L452.3 370.7 L446.9 363 L441.4 355.3 L435.9 347.6 L430.4 339.8M663 795.5 L661.9 787.8 L660.8 780.1 L659.8 772.3 L658.7 764.6 L657.6 756.9 L656.5 749.2 L655.3 741.5 L654.2 733.7 L653 726 L651.8 718.3 L650.6 710.6 L649.5 702.8 L648.3 695.1 L647.1 687.4 L645.9 679.7 L644.7 671.9 L643.4 664.2 L642.2 656.5 L640.8 648.8 L639.5 641.1 L638.1 633.3 L636.7 625.6 L635.2 617.9 L633.7 610.2 L632.2 602.4 L630.6 594.7 L628.9 587 L627.2 579.3 L625.4 571.5 L623.5 563.8 L621.6 556.1 L619.6 548.4 L617.5 540.7 L615.3 532.9 L613.1 525.2 L610.8 517.5 L608.3 509.8 L605.9 502 L603.2 494.3 L600.6 486.6 L597.8 478.9 L594.9 471.1 L591.9 463.4 L588.8 455.7 L585.6 448 L582.3 440.2 L579 432.5 L575.5 424.8 L571.9 417.1 L568.2 409.4 L564.4 401.6 L560.6 393.9 L556.7 386.2 L552.6 378.5 L548.6 370.7 L544.4 363 L540.2 355.3 L535.9 347.6 L531.6 339.8M709.7 795.5 L708.9 787.8 L708.1 780.1 L707.4 772.3 L706.6 764.6 L705.9 756.9 L705.1 749.2 L704.4 741.5 L703.6 733.7 L702.8 726 L702 718.3 L701.2 710.6 L700.4 702.8 L699.6 695.1 L698.8 687.4 L697.9 679.7 L697 671.9 L696.2 664.2 L695.4 656.5 L694.6 648.8 L693.7 641.1 L692.9 633.3 L692.1 625.6 L691.2 617.9 L690.4 610.2 L689.5 602.4 L688.6 594.7 L687.7 587 L686.8 579.3 L685.8 571.5 L684.8 563.8 L683.8 556.1 L682.7 548.4 L681.7 540.7 L680.5 532.9 L679.4 525.2 L678.2 517.5 L676.9 509.8 L675.6 502 L674.2 494.3 L672.8 486.6 L671.3 478.9 L669.8 471.1 L668.2 463.4 L666.5 455.7 L664.7 448 L662.9 440.2 L661 432.5 L659 424.8 L656.9 417.1 L654.7 409.4 L652.5 401.6 L650.1 393.9 L647.7 386.2 L645.1 378.5 L642.5 370.7 L639.7 363 L636.9 355.3 L633.9 347.6 L630.9 339.8" stroke="#00E600" stroke-width="1.2" fill="none" clip-path="url(#cb)"/>
<path d="M223.6 795.5 L392.8 503M299.4 795.5 L461.7 503M346.4 795.5 L504.2 503M408.6 795.5 L560.3 503M468.9 795.5 L614.6 503M523.5 795.5 L663.5 503M595.4 795.5 L727.9 503" stroke="#00E600" stroke-width="1" stroke-dasharray="3 2" fill="none" clip-path="url(#cb)"/>
<path d="M69 60.5V810.5"  stroke="#C8C8C8" stroke-width="1" fill="none"/>
<path d="M69 810.5H819.5"  stroke="#DDB4B4" stroke-width="1" fill="none"/>
<path d="M681.5 60.5V502.5L819.5 644.9V810.5" stroke="#B4B4B4" stroke-width="1" fill="none"/>
<path d="M69 60.5H681.5" stroke="#B98080" stroke-width="1.1" fill="none"/>
<path d="M69 60V796" stroke="#1a1a1a" stroke-width="1.1" fill="none"/>
<path d="M61.5 795.5H69M61.5 743.5H69M61.5 681.5H69M61.5 574.5H69M61.5 502.5H69M61.5 411.5H69M61.5 352.5H69M61.5 281.5H69M61.5 189.5H69M61.5 60.5H69" stroke="#444" stroke-width="1" fill="none"/>
<path d="M95 810.5H717" stroke="#444" stroke-width="1" fill="none"/>
<path d="M95.5 810.5V818M183.5 810.5V818M272.5 810.5V818M361.5 810.5V818M450.5 810.5V818M539.5 810.5V818M627.5 810.5V818M716.5 810.5V818" stroke="#444" stroke-width="1" fill="none"/>
<text transform="translate(50.9 795) rotate(-90)" text-anchor="middle" font-size="14.2" font-family="Liberation Sans, sans-serif" fill="#000">1000</text>
<text transform="translate(50.9 743.1) rotate(-90)" text-anchor="middle" font-size="14.2" font-family="Liberation Sans, sans-serif" fill="#000">850</text>
<text transform="translate(50.9 681.1) rotate(-90)" text-anchor="middle" font-size="14.2" font-family="Liberation Sans, sans-serif" fill="#000">700</text>
<text transform="translate(50.9 573.7) rotate(-90)" text-anchor="middle" font-size="14.2" font-family="Liberation Sans, sans-serif" fill="#000">500</text>
<text transform="translate(50.9 502.5) rotate(-90)" text-anchor="middle" font-size="14.2" font-family="Liberation Sans, sans-serif" fill="#000">400</text>
<text transform="translate(50.9 410.6) rotate(-90)" text-anchor="middle" font-size="14.2" font-family="Liberation Sans, sans-serif" fill="#000">300</text>
<text transform="translate(50.9 352.4) rotate(-90)" text-anchor="middle" font-size="14.2" font-family="Liberation Sans, sans-serif" fill="#000">250</text>
<text transform="translate(50.9 281.1) rotate(-90)" text-anchor="middle" font-size="14.2" font-family="Liberation Sans, sans-serif" fill="#000">200</text>
<text transform="translate(50.9 189.3) rotate(-90)" text-anchor="middle" font-size="14.2" font-family="Liberation Sans, sans-serif" fill="#000">150</text>
<text transform="translate(50.9 59.8) rotate(-90)" text-anchor="middle" font-size="14.2" font-family="Liberation Sans, sans-serif" fill="#000">100</text>
<text x="95.1" y="836.8" text-anchor="middle" font-size="12.5" font-family="Liberation Sans, sans-serif" fill="#000">-30</text>
<text x="183.9" y="836.8" text-anchor="middle" font-size="12.5" font-family="Liberation Sans, sans-serif" fill="#000">-20</text>
<text x="272.7" y="836.8" text-anchor="middle" font-size="12.5" font-family="Liberation Sans, sans-serif" fill="#000">-10</text>
<text x="361.5" y="836.8" text-anchor="middle" font-size="12.5" font-family="Liberation Sans, sans-serif" fill="#000">0</text>
<text x="450.3" y="836.8" text-anchor="middle" font-size="12.5" font-family="Liberation Sans, sans-serif" fill="#000">10</text>
<text x="539.1" y="836.8" text-anchor="middle" font-size="12.5" font-family="Liberation Sans, sans-serif" fill="#000">20</text>
<text x="627.9" y="836.8" text-anchor="middle" font-size="12.5" font-family="Liberation Sans, sans-serif" fill="#000">30</text>
<text x="716.7" y="836.8" text-anchor="middle" font-size="12.5" font-family="Liberation Sans, sans-serif" fill="#000">40</text>
<text x="444.4" y="866.7" text-anchor="middle" font-size="12.7" font-family="Liberation Sans, sans-serif" fill="#000">Temperature (C)</text>
<text transform="translate(13.6 435.6) rotate(-90)" text-anchor="middle" font-size="12" font-family="Liberation Sans, sans-serif" fill="#000">P (hPa)</text>
<text transform="translate(693.8 343.7) rotate(-45)" text-anchor="middle" dominant-baseline="central" font-size="12.8" font-family="Liberation Sans, sans-serif" fill="#A83232">-10</text>
<text transform="translate(688.6 446.7) rotate(-45)" text-anchor="middle" dominant-baseline="central" font-size="12.8" font-family="Liberation Sans, sans-serif" fill="#A83232">0</text>
<text transform="translate(715.3 517.7) rotate(-45)" text-anchor="middle" dominant-baseline="central" font-size="12.8" font-family="Liberation Sans, sans-serif" fill="#A83232">10</text>
<text transform="translate(760.3 566.1) rotate(-45)" text-anchor="middle" dominant-baseline="central" font-size="12.8" font-family="Liberation Sans, sans-serif" fill="#A83232">20</text>
<text transform="translate(806.5 613.2) rotate(-45)" text-anchor="middle" dominant-baseline="central" font-size="12.8" font-family="Liberation Sans, sans-serif" fill="#A83232">30</text>
<text transform="translate(828.6 686) rotate(-45)" text-anchor="middle" dominant-baseline="central" font-size="12.8" font-family="Liberation Sans, sans-serif" fill="#A83232">40</text>
<text transform="translate(828.6 786) rotate(-45)" text-anchor="middle" dominant-baseline="central" font-size="12.8" font-family="Liberation Sans, sans-serif" fill="#A83232">50</text>
<text transform="translate(216.6 803.1) rotate(-55)" text-anchor="middle" dominant-baseline="central" font-size="11.5" font-family="Liberation Sans, sans-serif" fill="#00E600">1</text>
<text transform="translate(292.4 803.1) rotate(-55)" text-anchor="middle" dominant-baseline="central" font-size="11.5" font-family="Liberation Sans, sans-serif" fill="#00E600">2</text>
<text transform="translate(339.4 803.1) rotate(-55)" text-anchor="middle" dominant-baseline="central" font-size="11.5" font-family="Liberation Sans, sans-serif" fill="#00E600">3</text>
<text transform="translate(401.6 803.1) rotate(-55)" text-anchor="middle" dominant-baseline="central" font-size="11.5" font-family="Liberation Sans, sans-serif" fill="#00E600">5</text>
<text transform="translate(461.9 803.1) rotate(-55)" text-anchor="middle" dominant-baseline="central" font-size="11.5" font-family="Liberation Sans, sans-serif" fill="#00E600">8</text>
<text transform="translate(516.5 803.1) rotate(-55)" text-anchor="middle" dominant-baseline="central" font-size="11.5" font-family="Liberation Sans, sans-serif" fill="#00E600">12</text>
<text transform="translate(588.4 803.1) rotate(-55)" text-anchor="middle" dominant-baseline="central" font-size="11.5" font-family="Liberation Sans, sans-serif" fill="#00E600">20</text>
<path d="M294.7 785.3 L294.7 774.4 L299.3 762 L304.8 751.1 L305.6 741.8 L297.8 727.8 L293.9 712.2 L293.1 681.1 L289.5 669 L282 654.2 L273.4 639.7 L258.9 620.9 L245.2 602.1 L241.6 582.6 L224.4 563.3 L188.9 542.2 L145.6 522.2 L91.1 502.2 L67.8 485.6 L60 480 L66.7 460 L63.3 436.7 L71 411.2 L85 369.2 L95.5 347 L100.8 320.2 L101.7 271.3 L112.9 246.8 L123.4 230.5 L140 205" stroke="#5FCC4A" stroke-width="3.5" fill="none" stroke-linejoin="round" stroke-linecap="round"/>
<path d="M386.4 785.3 L370.9 776 L355.3 765.1 L339.8 754.2 L327.3 743.3 L319.5 727.8 L315.7 712.2 L313.3 696.7 L311.8 681.1 L308.7 667.1 L303.7 655.6 L297.2 641.2 L283.5 619.5 L272.6 602.1 L269 589.1 L264.7 571.8 L260.3 548.7 L259.3 541 L260.9 521.1 L269 501 L271 497.6 L288.1 478 L310.1 459.7 L338.2 431.6 L356.6 413.2 L373.7 387.6 L387.1 365.6 L400.6 344.8 L422.6 317.9 L442.1 295.9 L453.2 280 L459.3 271.7 L470.3 249.7 L486.2 210.6 L500.9 167.8 L516.8 129.9 L530.2 96.9 L536.4 81.7" stroke="#D9506E" stroke-width="3.5" fill="none" stroke-linejoin="round" stroke-linecap="round"/>
<path d="M311.8 681.1 L308.7 667.1 L303.7 655.6 L297.2 641.2 L283.5 619.5 L272.6 602.1 L269 589.1 L264.7 571.8 L260.3 548.7 L259.3 541 L260.9 521.1 L269 501 L271 497.6 L288.1 478 L310.1 459.7 L338.2 431.6 L356.6 413.2 L373.7 387.6 L387.1 365.6 L400.6 344.8 L422.6 317.9 L442.1 295.9 L453.2 280 L459.3 271.7 L470.3 249.7 L486.2 210.6 L500.9 167.8 L516.8 129.9 L530.2 96.9 L536.4 81.7" stroke="#FF1A1A" stroke-width="1.5" stroke-dasharray="4 2" fill="none" stroke-linejoin="round"/>
<path d="M387.5 784.3 L372 775 L356.4 764.1 L340.9 753.2 L328.6 742.3 L321 727.3 L317.2 711.9 L314.8 696.5 L313.3 681" stroke="#FF1A1A" stroke-width="1.3" stroke-dasharray="4 2" fill="none"/>
<circle cx="188.8" cy="160" r="96.2" fill="#fff"/>
<circle cx="188.8" cy="160" r="13.67" fill="none" stroke="#C0C0C0" stroke-width="0.9"/>
<circle cx="188.8" cy="160" r="27.34" fill="none" stroke="#C0C0C0" stroke-width="0.9"/>
<circle cx="188.8" cy="160" r="41.01" fill="none" stroke="#C0C0C0" stroke-width="0.9"/>
<circle cx="188.8" cy="160" r="54.68" fill="none" stroke="#C0C0C0" stroke-width="0.9"/>
<circle cx="188.8" cy="160" r="68.35" fill="none" stroke="#C0C0C0" stroke-width="0.9"/>
<circle cx="188.8" cy="160" r="82.02" fill="none" stroke="#C0C0C0" stroke-width="0.9"/>
<circle cx="188.8" cy="160" r="95.69" fill="none" stroke="#C0C0C0" stroke-width="0.9"/>
<rect x="182.8" y="156" width="6" height="8" fill="#fff"/>
<text x="188.8" y="160.5" text-anchor="middle" dominant-baseline="central" font-size="8.8" font-family="Liberation Sans, sans-serif" fill="#111">0</text>
<rect x="182.8" y="169.7" width="12" height="8" fill="#fff"/>
<text x="188.8" y="174.2" text-anchor="middle" dominant-baseline="central" font-size="8.8" font-family="Liberation Sans, sans-serif" fill="#111">10</text>
<rect x="182.8" y="183.3" width="12" height="8" fill="#fff"/>
<text x="188.8" y="187.8" text-anchor="middle" dominant-baseline="central" font-size="8.8" font-family="Liberation Sans, sans-serif" fill="#111">20</text>
<rect x="182.8" y="197" width="12" height="8" fill="#fff"/>
<text x="188.8" y="201.5" text-anchor="middle" dominant-baseline="central" font-size="8.8" font-family="Liberation Sans, sans-serif" fill="#111">30</text>
<rect x="182.8" y="210.7" width="12" height="8" fill="#fff"/>
<text x="188.8" y="215.2" text-anchor="middle" dominant-baseline="central" font-size="8.8" font-family="Liberation Sans, sans-serif" fill="#111">40</text>
<rect x="182.8" y="224.3" width="12" height="8" fill="#fff"/>
<text x="188.8" y="228.8" text-anchor="middle" dominant-baseline="central" font-size="8.8" font-family="Liberation Sans, sans-serif" fill="#111">50</text>
<rect x="182.8" y="238" width="12" height="8" fill="#fff"/>
<text x="188.8" y="242.5" text-anchor="middle" dominant-baseline="central" font-size="8.8" font-family="Liberation Sans, sans-serif" fill="#111">60</text>
<rect x="182.8" y="251.7" width="12" height="8" fill="#fff"/>
<text x="188.8" y="256.2" text-anchor="middle" dominant-baseline="central" font-size="8.8" font-family="Liberation Sans, sans-serif" fill="#111">70</text>
<path d="M201.5 191.9 L209.8 218 L209.8 227.3 L198.2 241.1 L193.3 237.1 L201.3 225.1 L220.2 223.8 L210.7 200.9 L223.5 182.5" stroke="#FF0000" stroke-width="2.9" fill="none" stroke-linejoin="round"/>
<circle cx="201.5" cy="191.9" r="3.4" fill="#FF0000"/>
<circle cx="209.8" cy="218" r="3.4" fill="#FF0000"/>
<circle cx="209.8" cy="227.3" r="3.4" fill="#FF0000"/>
<circle cx="198.2" cy="241.1" r="3.4" fill="#FF0000"/>
<circle cx="193.3" cy="237.1" r="3.4" fill="#FF0000"/>
<circle cx="201.3" cy="225.1" r="3.4" fill="#FF0000"/>
<circle cx="220.2" cy="223.8" r="3.4" fill="#FF0000"/>
<circle cx="210.7" cy="200.9" r="3.4" fill="#FF0000"/>
<circle cx="223.5" cy="182.5" r="3.4" fill="#FF0000"/>
<text x="226.3" y="176.3" text-anchor="middle" dominant-baseline="central" font-size="8.5" font-family="Liberation Sans, sans-serif" fill="#FF0000">6</text>
<text x="207.6" y="191" text-anchor="middle" dominant-baseline="central" font-size="8.5" font-family="Liberation Sans, sans-serif" fill="#FF0000">0.01</text>
<text x="217.3" y="197.1" text-anchor="middle" dominant-baseline="central" font-size="8.5" font-family="Liberation Sans, sans-serif" fill="#FF0000">5</text>
<text x="219.4" y="214.1" text-anchor="middle" dominant-baseline="central" font-size="8.5" font-family="Liberation Sans, sans-serif" fill="#FF0000">3.5</text>
<text x="230.1" y="217" text-anchor="middle" dominant-baseline="central" font-size="8.5" font-family="Liberation Sans, sans-serif" fill="#FF0000">4</text>
<text x="212.1" y="221.7" text-anchor="middle" dominant-baseline="central" font-size="8.5" font-family="Liberation Sans, sans-serif" fill="#FF0000">2</text>
<text x="211.5" y="238.7" text-anchor="middle" dominant-baseline="central" font-size="8.5" font-family="Liberation Sans, sans-serif" fill="#FF0000">1.5</text>
<text x="207.5" y="237.5" text-anchor="middle" dominant-baseline="central" font-size="8.5" font-family="Liberation Sans, sans-serif" fill="#FF0000">2</text>
<rect x="613.5" y="60.5" width="114.8" height="258.2" fill="#fff" stroke="#555" stroke-width="1"/>
<text x="630.3" y="75.3" font-size="9.0" font-family="Liberation Sans, sans-serif" fill="#111" xml:space="preserve">surface parcel:</text>
<text x="630.3" y="86.1" font-size="9.0" font-family="Liberation Sans, sans-serif" fill="#111" xml:space="preserve">CAPE = 27.5 J/kg</text>
<text x="630.3" y="96.9" font-size="9.0" font-family="Liberation Sans, sans-serif" fill="#111" xml:space="preserve">CIN = 0 J/kg</text>
<text x="630.3" y="107.7" font-size="9.0" font-family="Liberation Sans, sans-serif" fill="#111" xml:space="preserve">LCL = 825 hPa</text>
<text x="630.3" y="118.5" font-size="9.0" font-family="Liberation Sans, sans-serif" fill="#111" xml:space="preserve">LFC = NA hPa</text>
<text x="630.3" y="140.1" font-size="9.0" font-family="Liberation Sans, sans-serif" fill="#111" xml:space="preserve">mean-layer parcel:</text>
<text x="630.3" y="150.9" font-size="9.0" font-family="Liberation Sans, sans-serif" fill="#111" xml:space="preserve">CAPE = 10 J/kg</text>
<text x="630.3" y="161.7" font-size="9.0" font-family="Liberation Sans, sans-serif" fill="#111" xml:space="preserve">CIN = 1.8 J/kg</text>
<text x="630.3" y="172.5" font-size="9.0" font-family="Liberation Sans, sans-serif" fill="#111" xml:space="preserve">LCL = 824 hPa</text>
<text x="630.3" y="183.3" font-size="9.0" font-family="Liberation Sans, sans-serif" fill="#111" xml:space="preserve">LFC = NA hPa</text>
<text x="630.3" y="204.9" font-size="9.0" font-family="Liberation Sans, sans-serif" fill="#111" xml:space="preserve">most-unstable parcel:</text>
<text x="630.3" y="215.7" font-size="9.0" font-family="Liberation Sans, sans-serif" fill="#111" xml:space="preserve">CAPE = 0 J/kg</text>
<text x="630.3" y="226.5" font-size="9.0" font-family="Liberation Sans, sans-serif" fill="#111" xml:space="preserve">CIN = 0 J/kg</text>
<text x="630.3" y="237.3" font-size="9.0" font-family="Liberation Sans, sans-serif" fill="#111" xml:space="preserve">LCL = 554 hPa</text>
<text x="630.3" y="248.1" font-size="9.0" font-family="Liberation Sans, sans-serif" fill="#111" xml:space="preserve">LFC = NA hPa</text>
<text x="630.3" y="258.9" font-size="9.0" font-family="Liberation Sans, sans-serif" fill="#111" xml:space="preserve">source = 581 hPa</text>
<text x="630.3" y="280.5" font-size="9.0" font-family="Liberation Sans, sans-serif" fill="#111" xml:space="preserve">PW =  5.56 mm</text>
<text x="630.3" y="302.1" font-size="9.0" font-family="Liberation Sans, sans-serif" fill="#111" xml:space="preserve">0--6-km shear= 17.5 kt</text>
<text x="630.3" y="312.9" font-size="9.0" font-family="Liberation Sans, sans-serif" fill="#111" xml:space="preserve">0--1-km shear= 25.8 kt</text>
<path d="M766.5 30V841" stroke="#222" stroke-width="1" fill="none"/>
<path d="M766.5 81.7L740.4 80.3M740.4 80.3L741.3 72.7M744.1 80.5L745.0 72.9M747.8 80.7L748.7 73.1M751.5 80.9L752.4 73.3M766.5 111.0L740.4 111.3M740.4 111.3L740.8 103.7M744.1 111.3L744.5 103.7M747.8 111.2L748.2 103.6M751.5 111.2L751.9 107.4M766.5 139.4L740.4 140.6M740.4 140.6L740.6 133.0M744.1 140.4L744.3 132.8M747.8 140.3L748.0 132.6M751.5 140.1L751.8 136.3M766.5 166.9L740.4 168.3M740.4 168.3L740.5 160.7M744.1 168.1L744.2 160.5M747.8 167.9L747.9 160.3M751.5 167.7L751.8 163.9M766.5 193.6L740.5 195.6M740.5 195.6L740.4 188.0M744.2 195.3L744.1 187.7M747.9 195.0L747.8 187.4M751.5 194.7L751.7 190.9M766.5 220.3L740.5 218.3M740.5 218.3L741.5 210.8M744.2 218.6L745.2 211.1M747.9 218.9L748.9 211.3M751.5 219.2L752.6 211.6M766.5 246.1L740.6 242.7M740.6 242.7L742.1 235.2M744.3 243.1L745.8 235.7M748.0 243.6L749.5 236.2M751.6 244.1L753.1 236.7M766.5 271.7L740.9 266.7M740.9 266.7L742.8 259.3M744.5 267.4L746.5 260.0M748.1 268.1L750.1 260.7M751.8 268.8L753.0 265.2M766.5 296.1L740.9 291.0M740.9 291.0L742.9 283.7M744.5 291.8L746.5 284.4M748.2 292.5L750.1 285.1M751.8 293.2L753.0 289.6M766.5 320.9L740.9 316.1M740.9 316.1L742.8 308.7M744.5 316.7L746.4 309.4M748.1 317.4L750.0 310.1M751.8 318.1L752.9 314.5M766.5 345.3L740.9 340.2M740.9 340.2L742.9 332.8M744.5 340.9L746.5 333.5M748.2 341.6L750.2 334.3M751.8 342.3L753.0 338.7M766.5 368.7L740.5 366.4M740.5 366.4L741.7 358.9M744.2 366.7L745.3 359.2M747.9 367.1L749.0 359.5M751.6 367.4L752.3 363.6M766.5 392.0L740.4 391.3M740.4 391.3L741.1 383.7M744.1 391.4L744.8 383.8M747.8 391.5L748.5 383.9M751.5 391.6L752.2 384.0M766.5 414.2L740.4 415.3M740.4 415.3L740.6 407.7M744.1 415.1L744.3 407.5M747.8 415.0L748.0 407.4M751.5 414.8L751.7 407.2M766.5 436.7L740.5 434.4M740.5 434.4L741.7 426.9M744.2 434.7L745.3 427.2M747.9 435.1L749.0 427.5M751.6 435.4L752.7 427.9M766.5 458.3L741.1 452.2M741.1 452.2L743.4 444.9M744.7 453.1L747.0 445.8M748.3 453.9L750.6 446.7M751.9 454.8L753.2 451.2M766.5 480.0L742.0 471.0M742.0 471.0L745.1 464.1M745.5 472.3L748.5 465.3M748.9 473.6L752.0 466.6M752.4 474.8L754.1 471.4M766.5 501.1L743.2 489.3M743.2 489.3L747.1 482.8M746.5 491.0L750.4 484.5M749.8 492.7L753.7 486.1M753.1 494.3L755.2 491.2M766.5 522.2L744.2 508.7M744.2 508.7L748.5 502.4M747.3 510.6L751.7 504.4M750.5 512.5L754.9 506.3M766.5 542.2L746.7 525.2M746.7 525.2L752.0 519.7M749.5 527.6L754.9 522.2M766.5 562.1L752.8 539.9M752.8 539.9L759.6 536.3M754.8 543.0L761.5 539.5M756.7 546.2L763.5 542.6M766.5 582.0L754.9 558.6M754.9 558.6L761.9 555.7M756.6 561.9L763.6 559.0M758.2 565.2L765.2 562.3M766.5 602.0L754.5 578.8M766.5 620.7L754.7 597.4M766.5 640.0L757.6 615.5M757.6 615.5L764.9 613.3M758.8 619.0L766.2 616.8M760.1 622.4L767.4 620.3M761.4 625.9L768.7 623.8M766.5 658.0L761.1 632.5M761.1 632.5L768.6 631.4M761.8 636.1L769.4 635.0M762.6 639.7L770.1 638.6M763.4 643.3L770.9 642.2M764.2 646.9L768.0 646.6M766.5 676.0L764.2 650.0M764.7 656.0L768.6 656.1M766.5 691.0L765.1 664.9M765.4 670.9L769.3 671.2M766.5 705.0L764.7 679.0M765.1 684.9L768.9 685.1M766.5 717.0L764.2 691.0M764.7 697.0L768.6 697.1M766.5 728.0L762.9 702.2M763.7 708.1L767.5 708.0M766.5 737.0L761.1 711.5M762.3 717.3L766.1 717.0M766.5 745.0L760.2 719.7M766.5 752.0L759.3 726.9M766.5 758.0L758.4 733.2M758.4 733.2L765.8 731.3M759.6 736.7L767.0 734.8M760.7 740.2L768.1 738.3M761.9 743.7L769.2 741.9M763.0 747.3L766.8 746.5M766.5 763.0L758.0 738.3M758.0 738.3L765.4 736.3M759.2 741.8L766.6 739.8M760.4 745.3L767.8 743.3M761.6 748.8L769.0 746.8M766.5 767.0L757.6 742.5M757.6 742.5L764.9 740.3M758.8 746.0L766.2 743.8M760.1 749.4L767.4 747.3M761.4 752.9L768.7 750.8M766.5 770.5L757.1 746.1M757.1 746.1L764.4 743.9M758.5 749.6L765.7 747.3M759.8 753.0L767.1 750.8M761.1 756.5L764.8 755.6M766.5 773.5L757.1 749.1M757.1 749.1L764.4 746.9M758.5 752.6L765.7 750.3M759.8 756.0L767.1 753.8M761.1 759.5L764.8 758.6M766.5 776.0L756.7 751.8M756.7 751.8L764.0 749.4M758.1 755.2L765.3 752.8M759.5 758.7L766.7 756.3M766.5 778.5L756.7 754.3M756.7 754.3L764.0 751.9M758.1 757.7L765.3 755.3M759.5 761.2L766.7 758.8M766.5 781.0L756.7 756.8M756.7 756.8L764.0 754.4M758.1 760.2L765.3 757.8M759.5 763.7L763.2 762.7M766.5 783.5L756.7 759.3M756.7 759.3L764.0 756.9M758.1 762.7L765.3 760.3M766.5 786.0L756.7 761.8M756.7 761.8L764.0 759.4M758.1 765.2L761.8 764.2" stroke="#000" stroke-width="1.0" fill="none" stroke-linecap="butt"/><path d="M754.5 578.8L762.4 576.4L756.9 583.5ZM754.7 597.4L762.6 595.1L757.0 602.1ZM764.2 650.0L772.5 650.8L764.7 655.2ZM765.1 664.9L773.4 666.0L765.4 670.1ZM764.7 679.0L773.0 679.9L765.0 684.2ZM764.2 691.0L772.5 691.8L764.7 696.2ZM762.9 702.2L771.2 702.5L763.6 707.3ZM761.1 711.5L769.4 711.2L762.2 716.6ZM760.2 719.7L768.5 719.1L761.4 724.7ZM759.3 726.9L767.6 726.1L760.7 731.9Z" fill="#000" stroke="#000" stroke-width="0.5"/>
</svg>
<svg width="900" height="900" style="position:absolute;left:0;top:0"><text x="444.5" y="20.7" text-anchor="middle" font-size="14.4" font-weight="bold" font-family="Liberation Sans, sans-serif" fill="#000">CSU WRF skew-T for Salina</text><text x="444.7" y="36.7" text-anchor="middle" font-size="12.9" font-family="Liberation Sans, sans-serif" fill="#000" xml:space="preserve">init: 0000 UTC Mon 16 Mar 2026     00-hr forecast valid 0000 UTC Mon 16 Mar 2026</text></svg>
</body></html>
